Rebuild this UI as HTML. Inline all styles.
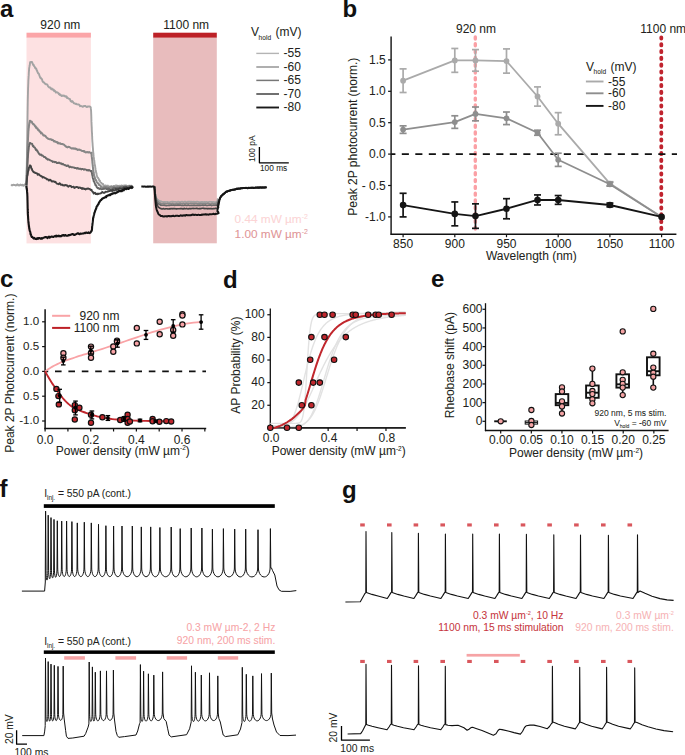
<!DOCTYPE html>
<html><head><meta charset="utf-8"><style>
html,body{margin:0;padding:0;background:#fff;}
svg{display:block;font-family:"Liberation Sans", sans-serif;}
</style></head><body>
<svg width="685" height="755" viewBox="0 0 685 755">
<rect width="685" height="755" fill="#fff"/>
<text x="0" y="17.3" font-size="24" text-anchor="start" fill="#111" font-weight="bold" >a</text>
<text x="60.3" y="29" font-size="12" text-anchor="middle" fill="#231f20" font-weight="normal" stroke="#231f20" stroke-width="0.05" >920 nm</text>
<text x="186.2" y="29" font-size="12" text-anchor="middle" fill="#231f20" font-weight="normal" stroke="#231f20" stroke-width="0.05" >1100 nm</text>
<rect x="26.5" y="32.7" width="64.4" height="5.1" fill="#fba5a8" />
<rect x="26.5" y="37.8" width="64.4" height="205.6" fill="#fde1e2" />
<rect x="153.2" y="32.7" width="63.6" height="5.1" fill="#bd2026" />
<rect x="153.2" y="37.8" width="63.6" height="205.5" fill="#e8bcbd" />
<path d="M11.2 184.37 L11.9 185.32 L12.6 185.41 L13.3 184.72 L14 184.94 L14.7 184.94 L15.4 185.25 L16.1 185.52 L16.8 184.59 L17.5 184.32 L18.2 185.43 L18.9 185.07 L19.6 185.48 L20.3 184.46 L21 184.89 L21.7 185.37 L22.4 184.75 L23.1 185.65 L23.8 185.75 L24.5 184.51 L25.2 184.23 L25.88 185.01 L26.2 186.32 L26.35 186.34 L26.42 186.67 L26.42 187.59 L26.35 186.84 L26.35 186.31 L26.36 185.95 L26.38 185.41 L26.4 184.36 L26.42 183.59 L26.44 182.86 L26.46 182.5 L26.48 181.62 L26.5 180.5 L26.51 180.89 L26.53 180 L26.55 179.39 L26.56 178.05 L26.58 178.38 L26.59 177.7 L26.61 175.94 L26.62 175.33 L26.63 175.21 L26.65 174.61 L26.66 174.26 L26.67 172.88 L26.69 172.64 L26.7 171.8 L26.71 170.54 L26.72 170.14 L26.74 169.93 L26.75 169.27 L26.76 168.09 L26.77 167.41 L26.78 165.92 L26.79 165.36 L26.81 165.49 L26.82 164.4 L26.83 163.28 L26.84 163.03 L26.85 162.65 L26.86 161.97 L26.87 160.84 L26.88 160.15 L26.89 159.55 L26.9 159.26 L26.92 158.27 L26.93 157.33 L26.94 156.72 L26.95 155.37 L26.96 154.56 L26.97 154.79 L26.98 154.68 L26.99 153.54 L27 152.46 L27.01 151.37 L27.02 151.06 L27.03 151.14 L27.04 150.28 L27.06 149.22 L27.07 148.91 L27.08 147.38 L27.09 146.93 L27.1 146.91 L27.11 145.8 L27.12 144.85 L27.13 143.83 L27.14 143.46 L27.15 143.42 L27.17 141.48 L27.18 141.65 L27.19 141.18 L27.2 140.62 L27.21 139.74 L27.22 139.1 L27.23 138 L27.25 137.28 L27.26 136.38 L27.27 135.11 L27.28 135.46 L27.29 134.54 L27.3 133.27 L27.31 132.89 L27.32 132.23 L27.33 131.35 L27.34 130.6 L27.35 130.16 L27.36 129.64 L27.37 128.96 L27.38 128.04 L27.39 126.68 L27.4 126.14 L27.41 125.39 L27.42 125.27 L27.43 125.08 L27.44 124.4 L27.45 123.7 L27.46 123.03 L27.47 121.52 L27.48 121.51 L27.48 120.7 L27.49 119.13 L27.5 118.16 L27.51 117.4 L27.52 117.76 L27.53 116.54 L27.54 115.54 L27.55 115.52 L27.56 114.55 L27.57 113.4 L27.58 112.74 L27.59 112.58 L27.6 111.47 L27.61 110.84 L27.62 110.78 L27.63 109.84 L27.64 108.9 L27.65 108.37 L27.66 107.06 L27.67 106.76 L27.69 106.19 L27.7 105.18 L27.71 104.3 L27.72 104.71 L27.73 103.67 L27.74 102.47 L27.76 102.24 L27.77 101.94 L27.78 100.17 L27.79 99.25 L27.81 98.69 L27.82 98.85 L27.83 97.51 L27.85 97.47 L27.87 96.86 L27.88 95.99 L27.9 94.79 L27.91 95.08 L27.93 94.32 L27.95 93.2 L27.97 92 L27.99 91.81 L28.01 90.84 L28.03 90.35 L28.05 89.33 L28.07 89.01 L28.09 87.56 L28.11 87.06 L28.14 87.36 L28.16 86.73 L28.19 85.22 L28.21 85.16 L28.24 83.8 L28.27 83.87 L28.3 83.04 L28.33 81.85 L28.36 80.81 L28.39 79.7 L28.43 80.17 L28.47 78.49 L28.5 78.72 L28.54 78.41 L28.58 77.23 L28.62 75.86 L28.66 76.03 L28.71 75.66 L28.75 74.63 L28.79 73.59 L28.84 72.63 L28.89 71.84 L28.94 70.92 L29 70.85 L29.06 69.93 L29.12 68.85 L29.19 67.94 L29.27 68.01 L29.36 66.94 L29.45 66.47 L29.56 65.57 L29.68 65.62 L29.81 65.12 L29.95 63.21 L30.09 62.54 L30.25 62.04 L30.51 62.38 L31.12 62.13 L31.66 61.9 L32.11 62.13 L32.51 63.3 L32.9 64.24 L33.28 65.04 L33.64 64.83 L34.01 66.04 L34.37 66.48 L34.72 66.76 L35.08 68.02 L35.44 67.67 L35.8 68.79 L36.14 68.58 L36.48 69.15 L36.81 70.83 L37.14 70.65 L37.47 71.9 L37.8 72.41 L38.12 73.36 L38.45 73.36 L38.78 73.81 L39.11 74.33 L39.42 75.77 L39.73 76.18 L40.03 77.27 L40.34 77.89 L40.66 77.43 L40.98 78.44 L41.32 78.48 L41.69 78.87 L42.08 79.46 L42.5 81.16 L42.95 81.82 L43.42 82.41 L43.91 82.23 L44.42 82.97 L44.94 83.73 L45.46 83.66 L45.99 84.29 L46.52 84.29 L47.05 84.45 L47.58 85.12 L48.11 86.52 L48.64 86.69 L49.18 87.6 L49.72 87.46 L50.26 87.53 L50.81 88.62 L51.37 89.24 L51.92 88.53 L52.48 89.67 L53.05 89.39 L53.61 89.7 L54.18 91.2 L54.74 90.61 L55.32 91.11 L55.89 92.6 L56.47 92.4 L57.05 92.23 L57.63 92.58 L58.23 93.05 L58.82 94.15 L59.43 93.73 L60.05 95.07 L60.68 94.8 L61.33 95.81 L61.98 96.11 L62.64 95.47 L63.31 95.46 L63.97 95.97 L64.62 95.72 L65.27 96.69 L65.91 96.24 L66.53 96.37 L67.13 98.09 L67.71 97.77 L68.27 98.47 L68.82 98.75 L69.37 98.96 L69.91 99 L70.44 100.59 L70.98 101.35 L71.53 101.86 L72.07 101.07 L72.63 101.39 L73.21 102.35 L73.8 103.36 L74.4 103.22 L75.01 103.67 L75.62 103.99 L76.25 103.73 L76.87 104.33 L77.51 104.34 L78.15 104.48 L78.8 104.47 L79.46 104.95 L80.12 106.23 L80.79 105.87 L81.47 106.21 L82.16 106.35 L82.86 106.87 L83.55 106.23 L84.25 106.02 L84.95 106.03 L85.65 106.05 L86.35 106.86 L87.05 107.15 L87.74 106.45 L88.43 106.35 L89.11 106.44 L89.78 106.4 L90.29 106.88 L90.54 107.03 L90.71 107.29 L90.83 108.22 L90.91 108.71 L90.99 110.06 L91.05 110.19 L91.1 110.79 L91.14 112.27 L91.18 112.63 L91.21 113.98 L91.24 114.38 L91.26 115.55 L91.29 115.33 L91.31 116.34 L91.33 117.53 L91.35 117.29 L91.37 119.06 L91.39 118.86 L91.41 120.24 L91.43 121.38 L91.46 121.93 L91.48 121.88 L91.5 122.12 L91.53 123.32 L91.56 124.7 L91.59 124.63 L91.63 126.04 L91.66 125.8 L91.69 127.42 L91.73 127.04 L91.76 127.93 L91.79 129.51 L91.82 130.25 L91.86 131.1 L91.89 131.74 L91.92 132.29 L91.95 132.87 L91.98 132.82 L92.01 133.73 L92.05 134.08 L92.08 135.51 L92.11 136.28 L92.15 136.4 L92.18 136.71 L92.22 138.63 L92.25 139.35 L92.29 139.68 L92.33 140.29 L92.37 141.42 L92.41 141.63 L92.45 142.15 L92.5 142.73 L92.55 143.29 L92.59 143.62 L92.64 145.14 L92.69 145.68 L92.74 146.56 L92.79 146.57 L92.84 147.55 L92.9 147.99 L92.95 148.62 L93.01 149.49 L93.07 151.05 L93.13 151.3 L93.2 151.91 L93.26 152.89 L93.33 153.1 L93.41 153.37 L93.48 154.73 L93.56 155.52 L93.64 156.45 L93.73 156.89 L93.82 157.89 L93.91 158.71 L94 158.72 L94.09 159.64 L94.18 160.36 L94.28 160.69 L94.37 161.59 L94.47 162.53 L94.57 163.77 L94.67 164.59 L94.77 164.38 L94.88 165.43 L94.98 165.33 L95.1 165.9 L95.21 167.2 L95.32 168.54 L95.44 168.32 L95.57 169.7 L95.7 170.7 L95.83 170.62 L95.98 171.71 L96.12 172.69 L96.28 172.75 L96.45 173.78 L96.64 174.57 L96.83 175.07 L97.04 176.07 L97.27 176.86 L97.51 177.64 L97.78 177.75 L98.06 177.71 L98.37 178.31 L98.71 178.87 L99.07 179.97 L99.45 180.92 L99.85 180.56 L100.26 181.84 L100.68 182.6 L101.11 182.66 L101.57 183.32 L102.07 183.34 L102.61 184.5 L103.19 184.04 L103.8 185.57 L104.45 185.83 L105.11 185.8 L105.79 185.4 L106.47 186.35 L107.17 186.67 L107.86 185.59 L108.56 186.32 L109.26 186.57 L109.96 186.36 L110.66 186.38 L111.36 186 L112.06 186.61 L112.76 186.8 L113.46 185.98 L114.16 186.42 L114.86 185.98 L115.56 185.51 L116.26 185.66 L116.96 185.41 L117.66 186.49 L118.36 186.78 L119.06 185.63 L119.76 186.1 L120.46 185.92 L121.16 185.46 L121.86 185.63 L122.56 185.59 L123.26 186.31 L123.96 185.37 L124.66 185.45 L125.36 185.82 L126.06 185.3 L126.76 186.06 L127.46 186.18 L128.16 186.53 L128.86 185.69 L129.56 185.64 L130.26 185.99 L130.96 185.67 L131.66 186.06 L132.3 185.65" fill="none" stroke="#a3a3a3" stroke-width="1.9" stroke-linejoin="round" stroke-linecap="butt" />
<path d="M26.4 186.08 L26.42 185.49 L26.44 183.67 L26.46 182.78 L26.48 183.01 L26.51 182.36 L26.53 181.59 L26.55 180.41 L26.57 180 L26.59 179.36 L26.61 178.64 L26.63 177.39 L26.65 176.93 L26.67 176.23 L26.69 175.96 L26.71 175.69 L26.74 175.02 L26.76 173.8 L26.78 172.87 L26.8 171.9 L26.82 170.85 L26.84 170.07 L26.86 169.91 L26.89 169.14 L26.91 168.5 L26.93 168.47 L26.95 167.43 L26.98 166.71 L27 165.59 L27.02 164.54 L27.04 164.15 L27.07 163.27 L27.09 163.02 L27.12 163.03 L27.14 162.06 L27.16 160.67 L27.19 160.75 L27.21 160.08 L27.24 159.31 L27.26 158.81 L27.29 157.97 L27.31 157.28 L27.34 156.02 L27.36 156.01 L27.39 155.43 L27.41 153.72 L27.44 153.58 L27.46 152.95 L27.49 151.93 L27.51 151.26 L27.54 150.51 L27.57 150.36 L27.59 149.23 L27.62 148.87 L27.64 147.62 L27.67 147.49 L27.7 146.93 L27.72 145.69 L27.75 145.02 L27.78 144.78 L27.8 143.92 L27.83 142.89 L27.86 141.78 L27.89 141.13 L27.92 140.92 L27.95 139.64 L27.98 139.77 L28.01 138.42 L28.04 138.41 L28.07 137.08 L28.11 137.09 L28.14 136.21 L28.18 135.21 L28.22 134.47 L28.26 133.94 L28.3 133.19 L28.34 132.13 L28.39 131.22 L28.44 130.87 L28.5 130.78 L28.56 129.81 L28.62 128.36 L28.69 128.46 L28.77 127.81 L28.85 127.35 L28.95 125.79 L29.05 125.63 L29.17 124.17 L29.3 124.09 L29.44 123.04 L29.57 122.22 L29.7 122.34 L29.84 120.83 L30.33 120.86 L30.93 121.71 L31.43 121.52 L31.88 121.87 L32.32 123.24 L32.74 123.37 L33.17 124.22 L33.6 123.95 L34.04 124.76 L34.49 125.1 L34.94 126.24 L35.41 126.13 L35.88 127.64 L36.34 127.17 L36.8 128.4 L37.26 128.16 L37.72 128.83 L38.18 130.1 L38.65 129.93 L39.12 130.35 L39.59 131.5 L40.06 131.75 L40.54 131.77 L41.03 133.38 L41.52 133.03 L42.02 133.2 L42.53 134.01 L43.06 134.89 L43.59 135.58 L44.15 135.26 L44.71 135.8 L45.29 135.83 L45.88 136.67 L46.48 137.53 L47.09 137.94 L47.71 138.49 L48.33 138.67 L48.96 139.09 L49.58 139.22 L50.21 139.19 L50.84 139.12 L51.46 139.92 L52.09 139.89 L52.71 139.86 L53.34 140.54 L53.97 141.47 L54.6 140.94 L55.24 141.66 L55.87 141.79 L56.51 142.2 L57.15 142.04 L57.79 143.27 L58.43 142.85 L59.07 143.43 L59.72 143.52 L60.36 143.24 L61.01 144.09 L61.66 143.94 L62.31 144.01 L62.96 144.2 L63.61 144.61 L64.26 144.81 L64.92 145.74 L65.57 145.96 L66.23 146.8 L66.88 147.1 L67.54 147.43 L68.2 146.71 L68.86 147.03 L69.52 147.02 L70.18 147.64 L70.85 147.98 L71.51 148.45 L72.18 148.6 L72.84 148.22 L73.51 148.52 L74.19 148.86 L74.86 148.42 L75.53 148.52 L76.21 149.17 L76.88 149.06 L77.56 149.96 L78.24 149.67 L78.92 149.57 L79.59 149.79 L80.27 150.04 L80.95 150.21 L81.63 150.77 L82.31 150.93 L82.99 150.89 L83.68 151.42 L84.36 151.1 L85.05 152.04 L85.73 152.41 L86.42 152.31 L87.1 152.03 L87.78 152.2 L88.46 152.45 L89.14 151.96 L89.82 152.49 L90.48 152.91 L91.14 152.74 L91.6 152.69 L91.51 154.24 L91.56 154.56 L91.65 155.37 L91.74 156.6 L91.81 157.01 L91.89 157.24 L91.96 158.73 L92.03 158.8 L92.1 158.92 L92.16 160.35 L92.23 160.45 L92.29 161.29 L92.36 162.7 L92.43 163.32 L92.49 163.17 L92.56 164.25 L92.63 164.97 L92.7 165.77 L92.78 166.13 L92.85 167.25 L92.93 167.37 L93.01 168.22 L93.1 169.05 L93.2 170.5 L93.3 170.24 L93.41 171.61 L93.52 171.72 L93.63 172.78 L93.75 173.31 L93.87 174.06 L94 175.13 L94.15 175.43 L94.31 175.69 L94.5 176.27 L94.72 176.87 L94.96 178.5 L95.23 179.07 L95.53 180.1 L95.85 180.46 L96.19 180.16 L96.55 181.39 L96.93 182.26 L97.33 182.82 L97.74 183.09 L98.18 183.4 L98.64 184.01 L99.12 184.97 L99.63 184.86 L100.16 185.53 L100.73 185.92 L101.33 186.89 L101.96 187.11 L102.62 187.49 L103.3 187.56 L103.99 186.96 L104.69 186.8 L105.39 187.12 L106.09 186.92 L106.79 187.11 L107.49 187.49 L108.19 187.89 L108.89 187.55 L109.59 187.77 L110.29 186.88 L110.99 187.02 L111.69 187.84 L112.39 186.89 L113.09 187.02 L113.78 186.57 L114.48 186.47 L115.18 187.45 L115.88 187.73 L116.58 187.32 L117.28 186.54 L117.98 186.56 L118.68 186.45 L119.37 186.97 L120.07 187.06 L120.77 186.74 L121.47 186.76 L122.17 186.21 L122.87 186.62 L123.57 187.2 L124.27 187.04 L124.97 186.14 L125.67 186.47 L126.37 186.76 L127.07 186.2 L127.76 186.88 L128.46 186.43 L129.16 186.62 L129.86 186.25 L130.56 186.91 L131.26 186.74 L131.96 186.41 L132.3 185.78" fill="none" stroke="#878787" stroke-width="2.0" stroke-linejoin="round" stroke-linecap="butt" />
<path d="M26.4 185.16 L26.44 184.79 L26.47 183.93 L26.5 183.5 L26.54 182.88 L26.57 181.48 L26.61 180.58 L26.64 180.89 L26.67 179.66 L26.71 178.82 L26.74 179.06 L26.78 177.88 L26.81 177.56 L26.85 176.47 L26.89 175.9 L26.92 174.6 L26.96 174.4 L27 174.1 L27.03 173.04 L27.07 172.55 L27.11 171.8 L27.15 170.32 L27.19 170.35 L27.23 169.58 L27.27 168.5 L27.31 167.38 L27.35 167.66 L27.39 166.66 L27.43 166.21 L27.47 165.77 L27.5 164.91 L27.54 164.45 L27.58 163.12 L27.62 162.82 L27.66 161.74 L27.7 161.59 L27.74 160.93 L27.78 159.24 L27.82 158.39 L27.86 157.77 L27.9 158.04 L27.95 156.86 L27.99 156.31 L28.04 155.22 L28.09 154.71 L28.14 153.9 L28.19 153.13 L28.25 152.72 L28.31 152.08 L28.37 151.8 L28.44 150.9 L28.52 150.48 L28.59 149.75 L28.67 149.22 L28.75 148.15 L28.84 146.73 L28.93 146.78 L29.03 146.37 L29.16 145.66 L29.32 144.55 L29.57 143.99 L30 142.83 L30.66 143.41 L31.24 143.6 L31.73 143.7 L32.17 143.87 L32.59 145.37 L33.01 146.29 L33.41 145.78 L33.82 147.05 L34.24 147.25 L34.67 147.4 L35.11 148.04 L35.57 149.2 L36.01 150 L36.44 149.55 L36.86 150.63 L37.29 150.56 L37.72 151.85 L38.16 152.05 L38.61 153.22 L39.09 153.99 L39.58 153.92 L40.09 154.92 L40.63 154.59 L41.18 154.57 L41.75 155.56 L42.33 155.34 L42.92 155.81 L43.51 156.46 L44.11 157.14 L44.72 156.97 L45.33 157.07 L45.94 158.41 L46.56 158.24 L47.18 159.29 L47.8 159.67 L48.43 159.33 L49.05 159.61 L49.69 159.99 L50.32 160.46 L50.96 160.72 L51.6 160.95 L52.24 161.29 L52.9 161.96 L53.56 161.72 L54.22 161.75 L54.89 162.29 L55.56 161.94 L56.24 162.09 L56.91 163.13 L57.59 162.9 L58.27 163.03 L58.94 162.52 L59.62 163.08 L60.29 163.57 L60.96 163.12 L61.62 163.97 L62.29 164.34 L62.95 163.86 L63.61 164.68 L64.27 164.82 L64.93 165.31 L65.59 165.17 L66.25 165.79 L66.91 166.13 L67.57 165.47 L68.24 165.56 L68.9 166.54 L69.57 167.28 L70.24 166.67 L70.91 166.97 L71.58 167.35 L72.26 167.21 L72.94 167.37 L73.63 167.45 L74.31 167.65 L75 168.09 L75.69 167.9 L76.38 168.06 L77.07 168.69 L77.76 167.95 L78.45 168.59 L79.14 169.02 L79.83 168.66 L80.52 168.58 L81.21 169.4 L81.9 168.93 L82.59 168.86 L83.28 169.25 L83.97 169.75 L84.66 169.18 L85.35 169.43 L86.05 169.58 L86.74 170.33 L87.43 170.07 L88.12 170.64 L88.81 169.97 L89.5 170.16 L90.18 170.71 L90.86 171.26 L91.55 170.91 L91.49 171.07 L91.63 171.54 L91.79 172.7 L91.94 173.05 L92.08 174.46 L92.21 175.33 L92.34 175.22 L92.47 175.86 L92.61 177.22 L92.76 177.83 L92.92 178.7 L93.08 178.83 L93.27 179.12 L93.47 179.92 L93.71 181.25 L93.96 181.36 L94.23 182 L94.51 182.73 L94.8 183.39 L95.11 184.01 L95.44 185.28 L95.8 185.03 L96.2 185.24 L96.64 186.91 L97.14 187.55 L97.68 188.16 L98.27 187.86 L98.9 188.69 L99.56 189.01 L100.23 188.31 L100.91 188.95 L101.6 189.28 L102.3 189.17 L103 189.01 L103.7 188.71 L104.4 188.73 L105.1 188.59 L105.8 188.37 L106.5 188.99 L107.2 188.72 L107.9 189.32 L108.59 188.43 L109.29 189.32 L109.99 189.18 L110.69 189.39 L111.38 189.35 L112.08 189.28 L112.78 188.79 L113.47 187.91 L114.17 188.6 L114.86 187.93 L115.56 187.89 L116.25 188.28 L116.95 188.11 L117.64 187.87 L118.34 188.43 L119.03 188.06 L119.73 187.58 L120.42 187.31 L121.12 187.98 L121.82 187.56 L122.51 187.81 L123.21 187.25 L123.9 186.88 L124.6 187.18 L125.3 187.54 L125.99 186.73 L126.69 187.3 L127.38 187.53 L128.08 187.36 L128.78 187.29 L129.47 186.17 L130.17 186.69 L130.86 187.03 L131.56 186 L132.26 186.02 L132.3 186.03" fill="none" stroke="#686868" stroke-width="1.9" stroke-linejoin="round" stroke-linecap="butt" />
<path d="M26.4 185.12 L26.46 184.16 L26.52 183.83 L26.58 182.86 L26.64 181.98 L26.7 181.72 L26.76 181.86 L26.82 181.16 L26.88 180.41 L26.95 178.92 L27.03 178.52 L27.1 177.51 L27.19 176.6 L27.28 175.77 L27.38 175.2 L27.49 175.57 L27.61 174.95 L27.74 174.24 L27.86 173.54 L27.99 171.97 L28.13 171.28 L28.26 171.05 L28.41 170.6 L28.56 170.15 L28.72 169.55 L28.9 167.74 L29.09 167.59 L29.31 167.13 L29.6 166.29 L30.06 165.29 L30.58 166 L30.91 166.13 L31.18 167.9 L31.44 168.67 L31.7 168.89 L31.98 169.09 L32.3 170.5 L32.68 170.76 L33.14 171.66 L33.63 172.19 L34.16 172.17 L34.71 172.37 L35.28 172.99 L35.87 173.16 L36.47 173.1 L37.08 173.57 L37.68 174.68 L38.29 174.06 L38.9 174.22 L39.52 175.35 L40.13 175.35 L40.75 175.97 L41.37 176.27 L41.99 176.4 L42.61 177.63 L43.24 176.97 L43.86 177.41 L44.49 177.44 L45.12 178.31 L45.75 178.22 L46.38 178.55 L47.01 179.42 L47.65 179.21 L48.28 179.74 L48.93 180.57 L49.57 179.8 L50.22 179.8 L50.86 180.25 L51.52 181.32 L52.17 181.52 L52.82 181.21 L53.48 181.47 L54.14 181.49 L54.8 182.09 L55.46 181.79 L56.13 182.85 L56.79 183.52 L57.46 183.91 L58.12 183.84 L58.79 184.32 L59.46 183.22 L60.13 183.56 L60.8 184.76 L61.47 184.88 L62.14 184.54 L62.82 185.39 L63.49 185.24 L64.17 185.65 L64.84 185.12 L65.52 185 L66.2 185.48 L66.88 185.27 L67.56 185.71 L68.24 186.77 L68.92 186.2 L69.6 185.74 L70.29 185.82 L70.97 186.13 L71.66 187.19 L72.34 186.91 L73.03 186.85 L73.72 186.66 L74.41 187.98 L75.1 187.53 L75.79 187.21 L76.49 187 L77.18 187.03 L77.88 187.26 L78.57 188.11 L79.27 187.58 L79.96 187.38 L80.66 188.05 L81.35 187.9 L82.05 189.01 L82.74 188.04 L83.44 188.5 L84.13 189.01 L84.83 188.65 L85.53 189.48 L86.22 188.97 L86.92 188.58 L87.61 188.81 L88.31 188.38 L89 188.91 L89.7 188.84 L90.39 189.83 L91.08 190.04 L91.23 189.98 L91.56 189.83 L91.85 190.64 L92.17 191.27 L92.58 191.79 L93.12 192.26 L93.73 193.52 L94.39 192.9 L95.07 192.76 L95.76 194.05 L96.46 193.79 L97.16 194.31 L97.86 193.5 L98.55 193.98 L99.24 193.61 L99.93 193.63 L100.61 193.45 L101.3 192.94 L101.98 192.14 L102.67 192.03 L103.35 192.83 L104.02 192.88 L104.7 192.77 L105.37 191.74 L106.04 191.84 L106.72 191.92 L107.39 191.57 L108.07 191.61 L108.75 191.08 L109.43 191.03 L110.12 190.95 L110.81 190.23 L111.49 190.92 L112.18 191 L112.87 189.65 L113.56 190.58 L114.25 190.65 L114.94 190.15 L115.63 189.05 L116.32 189.97 L117.01 188.95 L117.7 189.87 L118.39 189.52 L119.08 188.49 L119.77 188.34 L120.46 188.9 L121.15 188.82 L121.84 188.97 L122.53 189.17 L123.22 188.1 L123.92 187.49 L124.61 188.6 L125.3 187.42 L125.99 188.34 L126.68 187.34 L127.37 188.05 L128.06 188.07 L128.75 188.12 L129.44 187.57 L130.13 187.84 L130.83 186.83 L131.52 187.21 L132.21 186.71 L132.3 187.42" fill="none" stroke="#414141" stroke-width="1.9" stroke-linejoin="round" stroke-linecap="butt" />
<path d="M26.4 185.96 L26.49 186.84 L26.58 187.63 L26.68 188.54 L26.77 189.01 L26.86 189.9 L26.94 189.49 L27.01 190.52 L27.08 191.9 L27.13 192.35 L27.19 193.33 L27.23 193.07 L27.27 194.04 L27.31 194.5 L27.34 195.54 L27.37 196.34 L27.4 196.34 L27.42 197.16 L27.44 197.97 L27.46 199.5 L27.48 200.18 L27.5 200.1 L27.52 201.46 L27.53 201.45 L27.55 202.62 L27.57 202.78 L27.58 203.22 L27.6 204.98 L27.61 205.04 L27.63 205.62 L27.65 207.28 L27.66 208.03 L27.68 207.99 L27.7 209.4 L27.72 209.71 L27.74 210.5 L27.76 210.62 L27.78 212.14 L27.81 212.69 L27.83 213.71 L27.86 214.38 L27.89 214.31 L27.93 214.94 L27.96 215.37 L28 215.99 L28.05 216.57 L28.1 217.55 L28.15 218.69 L28.2 218.71 L28.26 220.13 L28.32 220.54 L28.38 221.14 L28.45 222.47 L28.52 222.86 L28.6 223.29 L28.68 224.14 L28.77 225.15 L28.86 225.08 L28.95 226.79 L29.06 226.47 L29.17 227.89 L29.28 228.85 L29.4 228.53 L29.53 230.01 L29.66 230.31 L29.81 231.19 L29.98 231.18 L30.16 231.77 L30.37 232.59 L30.59 234.27 L30.84 234.16 L31.12 235.36 L31.44 236.32 L31.78 237.02 L32.14 236.87 L32.57 237.28 L33.11 237.91 L33.75 238.55 L34.43 237.93 L35.12 238.71 L35.82 238.96 L36.52 239.09 L37.22 238.04 L37.92 238.95 L38.62 237.99 L39.31 238.07 L40.01 238.38 L40.71 238.77 L41.4 238.06 L42.1 238.6 L42.8 238.17 L43.49 237.71 L44.19 237.56 L44.88 237.28 L45.57 237.02 L46.27 236.99 L46.96 237.6 L47.65 238.04 L48.35 236.98 L49.04 236.55 L49.73 237.58 L50.43 237.13 L51.12 236.8 L51.82 236.45 L52.51 236.76 L53.2 237.04 L53.9 236.55 L54.59 236.34 L55.29 235.76 L55.98 236.68 L56.68 235.67 L57.37 235.99 L58.07 236.44 L58.76 235.56 L59.46 236.1 L60.16 236.43 L60.85 236.03 L61.55 236.09 L62.25 235.18 L62.94 235.37 L63.64 234.98 L64.34 235.74 L65.03 235.14 L65.73 235.17 L66.43 235.82 L67.12 235.7 L67.82 235.78 L68.52 235.07 L69.21 234.91 L69.91 235.13 L70.6 234.79 L71.3 234.42 L71.99 234.42 L72.69 234.02 L73.38 234.17 L74.08 234.92 L74.77 234.96 L75.47 234.47 L76.16 234.14 L76.86 233.8 L77.55 233.34 L78.24 233.41 L78.94 234 L79.63 234.16 L80.33 233.47 L81.02 233.8 L81.71 233.78 L82.41 233.59 L83.1 233.44 L83.79 233.46 L84.49 232.87 L85.18 233.12 L85.87 232.55 L86.57 232.63 L87.27 232.96 L87.97 232.9 L88.67 232.37 L89.36 233.07 L90.06 232.75 L90.71 232.36 L91.24 231.16 L91.61 231.1 L91.82 230.16 L91.94 229.96 L91.99 229.09 L92.03 228.81 L92.06 227.98 L92.1 227.44 L92.16 226.2 L92.25 225.78 L92.34 225.26 L92.43 224.72 L92.5 223.44 L92.58 223.26 L92.66 222.7 L92.74 221.8 L92.82 221.43 L92.9 220.78 L92.99 219.53 L93.09 218.74 L93.2 217.56 L93.33 217.64 L93.47 217.23 L93.63 216.02 L93.8 215.51 L93.98 214.9 L94.17 214.25 L94.38 212.88 L94.58 212.84 L94.79 212.05 L95 211.46 L95.23 210.5 L95.46 210.04 L95.71 209.62 L95.98 208.85 L96.27 208.29 L96.58 206.8 L96.9 206.17 L97.23 205.91 L97.56 205.63 L97.9 204.53 L98.25 204.43 L98.61 203.86 L98.99 202.52 L99.38 202.34 L99.79 201.54 L100.23 200.72 L100.69 200.25 L101.16 199.98 L101.66 199.36 L102.18 198.88 L102.72 198.23 L103.27 198.31 L103.83 197.89 L104.41 197.79 L105 197.44 L105.6 196.63 L106.21 197.06 L106.84 195.74 L107.47 195.77 L108.12 195.39 L108.76 195.26 L109.41 194.65 L110.06 195.23 L110.7 194.55 L111.35 193.77 L111.99 194.13 L112.64 193.32 L113.29 193.52 L113.93 193.09 L114.58 193.1 L115.23 193.37 L115.88 193.04 L116.53 192.26 L117.19 192.41 L117.84 192.03 L118.5 191.41 L119.16 190.81 L119.82 191.09 L120.49 190.93 L121.15 191.23 L121.82 191.13 L122.49 190.49 L123.16 189.87 L123.83 190.28 L124.5 189.06 L125.17 188.79 L125.84 189.17 L126.51 189.15 L127.19 188.39 L127.86 188.71 L128.53 188.96 L129.21 188.19 L129.88 187.96 L130.56 187.5 L131.23 187.34 L131.91 188.04 L132.59 187.36 L132.7 187.98" fill="none" stroke="#141414" stroke-width="2.1" stroke-linejoin="round" stroke-linecap="butt" />
<path d="M154.4 186.47 L154.49 187.22 L154.57 188.15 L154.66 188.65 L154.75 189.31 L154.84 190.03 L154.93 190.5 L155.03 191.31 L155.13 192.11 L155.24 192.94 L155.34 193.27 L155.45 193.95 L155.57 194.52 L155.71 195.58 L155.87 196.32 L156.07 196.64 L156.33 197.71 L156.64 198.47 L157 198.95 L157.38 199.46 L157.81 199.72 L158.31 200.02 L158.9 200.64 L159.53 200.74 L160.2 200.97 L160.55 201.3 L161.05 201.36 L161.75 201.61 L162.45 201.69 L163.15 201.96 L163.85 201.87 L164.55 201.92 L165.25 201.86 L165.95 201.93 L166.65 201.84 L167.35 201.7 L168.05 202.08 L168.75 202.21 L169.45 202.16 L170.15 202.07 L170.85 201.81 L171.55 201.67 L172.25 201.65 L172.95 201.52 L173.65 201.88 L174.35 201.79 L175.05 202.02 L175.75 201.83 L176.45 202.09 L177.15 202.12 L177.85 201.63 L178.55 201.59 L179.25 201.98 L179.95 201.86 L180.65 202.11 L181.35 201.86 L182.05 201.58 L182.75 201.8 L183.45 201.97 L184.15 201.73 L184.85 201.54 L185.55 201.61 L186.25 202.01 L186.95 202.03 L187.65 201.66 L188.35 201.6 L189.05 201.5 L189.75 201.44 L190.45 201.85 L191.15 201.63 L191.85 201.78 L192.55 201.77 L193.25 201.62 L193.95 201.89 L194.65 201.64 L195.35 201.86 L196.05 201.64 L196.75 201.74 L197.45 201.66 L198.15 201.68 L198.85 202.1 L199.55 202.16 L200.25 201.89 L200.95 202.15 L201.65 201.85 L202.35 201.86 L203.05 202.14 L203.75 202.12 L204.45 201.8 L205.15 202.21 L205.85 201.91 L206.55 201.83 L207.25 202.11 L207.95 201.95 L208.65 201.88 L209.35 201.72 L210.05 201.67 L210.75 201.94 L211.45 201.84 L212.15 202 L212.85 201.91 L213.55 201.92 L214.25 202.19 L214.95 201.99 L215.65 201.93 L216.35 202.04 L217.04 201.59 L217.71 201.27 L218.31 201.33 L218.58 200.8 L218.35 199.85 L217.92 199.16 L217.41 198.96 L217.47 199.61 L217.58 199.94 L217.68 200.95 L217.78 201.71 L217.89 202.26 L218.07 202.78 L218.51 202.5 L218.75 201.72 L218.94 201.54 L219.12 200.62 L219.32 200.13 L219.53 199.27 L219.78 198.88 L220.06 198.2 L220.41 197.4 L220.82 196.7 L221.26 196.42 L221.72 195.6 L222.19 195.08 L222.68 194.77 L223.18 194.52 L223.69 193.99 L224.22 193.31 L224.76 193.17 L225.32 192.43 L225.9 191.82 L226.49 191.52 L227.11 191.32 L227.76 190.87 L228.42 190.64 L229.09 190.56 L229.76 190.53 L230.44 190.15 L231.12 190.03 L231.79 190.19 L232.47 190.2 L233.16 189.91 L233.84 189.73 L234.52 189.51 L235.21 189.09 L235.9 188.79 L236.58 188.59 L237.27 188.96 L237.96 188.89 L238.65 188.95 L239.34 188.35 L240.04 188.44 L240.73 188.32 L241.42 188.37 L242.12 188.11 L242.82 188.38 L243.52 187.9 L244.22 187.99 L244.91 188.11 L245.61 188.24 L246.31 188.17 L247.01 188.12 L247.71 188.14 L248.41 188.21 L249.11 187.89 L249.81 187.96 L250.51 188.1 L251.21 188.11 L251.91 187.83 L252.61 187.94 L253.31 188 L254.01 187.84 L254.71 187.79 L255.41 187.62 L256.11 187.66 L256.81 187.68 L257.51 187.36 L258.21 187.56 L258.91 187.82 L259.61 187.84 L260.31 187.74 L261.01 187.49 L261.71 187.59 L262.41 187.52 L263.11 187.4 L263.8 187.58 L264.5 187.19 L265.2 187.42 L265.9 187.07 L266.4 187.27" fill="none" stroke="#a3a3a3" stroke-width="1.6" stroke-linejoin="round" stroke-linecap="butt" />
<path d="M154.4 186.49 L154.48 187.28 L154.56 188.02 L154.63 188.42 L154.71 188.94 L154.79 189.78 L154.87 190.47 L154.96 191.48 L155.04 192.21 L155.14 192.87 L155.23 193.52 L155.33 194.26 L155.43 194.67 L155.53 195.44 L155.65 195.99 L155.78 197.06 L155.94 197.38 L156.13 198.38 L156.38 198.71 L156.67 199.59 L157 200.09 L157.34 200.69 L157.73 201.53 L158.2 201.66 L158.75 201.98 L159.35 202.79 L160 202.97 L160.65 202.94 L160.82 203.71 L161.52 203.88 L162.22 203.46 L162.92 203.51 L163.61 203.36 L164.31 203.41 L165.01 203.62 L165.71 203.42 L166.41 203.66 L167.11 203.37 L167.81 203.34 L168.51 203.71 L169.21 203.59 L169.91 203.56 L170.61 203.65 L171.31 203.61 L172.01 203.54 L172.71 203.3 L173.41 203.63 L174.11 203.88 L174.81 203.97 L175.51 203.81 L176.21 203.58 L176.91 203.5 L177.61 203.66 L178.31 203.7 L179.01 203.38 L179.71 203.34 L180.41 203.4 L181.11 203.5 L181.81 203.71 L182.51 203.6 L183.21 203.28 L183.91 203.63 L184.61 203.52 L185.31 203.53 L186.01 203.36 L186.71 203.42 L187.41 203.41 L188.11 203.63 L188.81 203.32 L189.51 203.47 L190.21 203.3 L190.91 203.54 L191.61 203.25 L192.31 203.28 L193.01 203.34 L193.71 203.53 L194.41 203.26 L195.11 203.41 L195.81 203.32 L196.51 203.33 L197.21 203.46 L197.91 203.79 L198.61 203.63 L199.31 203.86 L200.01 203.49 L200.71 203.8 L201.41 203.59 L202.11 203.42 L202.81 203.69 L203.51 203.89 L204.21 203.43 L204.91 203.43 L205.61 203.72 L206.31 203.58 L207.01 203.47 L207.71 203.3 L208.41 203.26 L209.11 203.58 L209.81 203.9 L210.51 204.02 L211.21 203.77 L211.91 203.39 L212.61 203.42 L213.31 203.69 L214.01 203.79 L214.71 203.69 L215.41 203.38 L216.11 203.4 L216.8 203.31 L217.49 203.26 L218.13 202.81 L218.58 202.64 L218.44 202.05 L218.02 201.1 L217.53 200.54 L217.46 200.82 L217.62 201.26 L217.76 202.26 L217.94 202.79 L218.38 203.04 L218.65 202.42 L218.85 201.48 L219.04 200.75 L219.24 200.04 L219.45 199.61 L219.69 199.04 L219.97 198.1 L220.31 197.82 L220.7 197.09 L221.13 196.38 L221.58 195.9 L222.05 195.72 L222.53 195.09 L223.03 194.59 L223.54 194.28 L224.06 193.9 L224.6 193.36 L225.15 192.7 L225.73 192.32 L226.31 192.13 L226.93 191.79 L227.57 191.38 L228.22 190.96 L228.89 190.7 L229.56 190.71 L230.24 190.5 L230.92 189.99 L231.59 190.1 L232.28 190.15 L232.96 190.01 L233.64 189.91 L234.32 189.8 L235.01 189.44 L235.69 189.38 L236.38 189.03 L237.07 188.66 L237.76 188.61 L238.45 188.49 L239.14 188.74 L239.83 188.62 L240.53 188.44 L241.22 188.37 L241.92 188 L242.61 188.08 L243.31 188.17 L244.01 188 L244.71 187.84 L245.41 187.86 L246.11 187.8 L246.81 187.98 L247.51 187.72 L248.21 187.58 L248.91 187.65 L249.61 187.89 L250.31 187.99 L251.01 187.95 L251.71 188.08 L252.41 187.78 L253.11 187.46 L253.8 187.6 L254.5 187.61 L255.2 187.44 L255.9 187.65 L256.6 187.52 L257.3 187.4 L258 187.4 L258.7 187.74 L259.4 187.3 L260.1 187.34 L260.8 187.29 L261.5 187.21 L262.2 187.31 L262.9 187.2 L263.6 187.56 L264.3 187.43 L265 187.48 L265.7 187.17 L266.4 187.23 L266.4 187.34" fill="none" stroke="#878787" stroke-width="1.6" stroke-linejoin="round" stroke-linecap="butt" />
<path d="M154.4 186.36 L154.47 187.26 L154.54 188.02 L154.61 188.84 L154.68 189.19 L154.76 189.79 L154.83 190.4 L154.9 191.12 L154.98 192.12 L155.06 192.57 L155.15 193.41 L155.23 193.97 L155.32 194.66 L155.41 195.44 L155.5 196.4 L155.61 197.05 L155.72 197.38 L155.85 198.09 L156.01 198.71 L156.21 199.78 L156.44 200.54 L156.72 201.22 L157.03 201.87 L157.35 202.45 L157.72 203.16 L158.15 203.65 L158.67 203.79 L159.25 204.4 L159.88 204.57 L160.54 204.92 L160.66 205.26 L161.36 205.22 L162.06 205.18 L162.76 205.21 L163.46 205.17 L164.16 205.04 L164.86 205.41 L165.56 205.53 L166.26 205.68 L166.96 205.56 L167.66 205.44 L168.36 205.52 L169.06 205.18 L169.76 205.38 L170.46 205.31 L171.16 205.13 L171.86 205.08 L172.56 205.25 L173.26 205.15 L173.96 205.24 L174.66 205.35 L175.36 205.26 L176.06 205.08 L176.76 205.22 L177.46 205.12 L178.16 205.08 L178.86 205.04 L179.56 205.13 L180.26 204.98 L180.96 205.27 L181.66 205.54 L182.36 205.31 L183.06 205.41 L183.76 205.57 L184.46 205.11 L185.16 205 L185.86 205.35 L186.56 205.49 L187.26 205.42 L187.96 205.11 L188.66 205.15 L189.36 205.43 L190.06 205.54 L190.76 205.53 L191.46 205.18 L192.16 205.44 L192.86 205.25 L193.56 205.39 L194.26 205.1 L194.96 205.5 L195.66 205.42 L196.36 205.47 L197.06 205.2 L197.76 205.35 L198.46 205.38 L199.16 205.41 L199.86 205.29 L200.56 205.47 L201.26 205.31 L201.96 205.24 L202.66 205.14 L203.36 205.41 L204.06 205.18 L204.76 205.17 L205.46 205.08 L206.16 205.39 L206.86 205.45 L207.56 205.46 L208.26 205.17 L208.96 205.31 L209.66 205.3 L210.36 205.14 L211.06 205.03 L211.76 205.57 L212.46 205.23 L213.16 205.21 L213.86 205.17 L214.56 205.32 L215.25 205.04 L215.95 205.13 L216.65 205.04 L217.34 205.2 L218 204.6 L218.52 204.21 L218.47 203.66 L218.06 203.42 L217.58 202.76 L217.42 202.19 L217.74 202.9 L218.21 203.03 L218.53 202.19 L218.75 201.72 L218.94 201.36 L219.13 200.69 L219.34 199.75 L219.58 199.24 L219.85 198.74 L220.16 197.83 L220.54 197.33 L220.96 196.66 L221.4 196.02 L221.87 195.48 L222.34 194.92 L222.84 194.49 L223.34 193.85 L223.86 193.53 L224.39 192.95 L224.94 192.86 L225.5 192.47 L226.09 191.75 L226.69 191.72 L227.32 191.19 L227.97 191.02 L228.63 190.88 L229.3 190.58 L229.98 190.34 L230.66 190.22 L231.33 189.89 L232.01 190.09 L232.69 189.62 L233.38 189.78 L234.06 189.38 L234.74 189.2 L235.43 189.09 L236.12 188.76 L236.81 188.62 L237.49 188.62 L238.18 188.6 L238.87 188.77 L239.57 188.83 L240.26 188.24 L240.95 188.26 L241.65 187.99 L242.35 188.25 L243.04 188.02 L243.74 188.25 L244.44 188.11 L245.14 187.79 L245.84 187.6 L246.54 187.66 L247.24 188.03 L247.94 187.73 L248.64 187.81 L249.34 187.76 L250.04 187.71 L250.74 187.95 L251.44 187.67 L252.14 187.85 L252.84 187.86 L253.54 188.01 L254.24 187.8 L254.94 187.95 L255.63 187.71 L256.33 187.68 L257.03 187.69 L257.73 187.8 L258.43 187.86 L259.13 187.41 L259.83 187.25 L260.53 187.41 L261.23 187.62 L261.93 187.51 L262.63 187.33 L263.33 187.63 L264.03 187.34 L264.73 187.1 L265.43 186.98 L266.13 186.91 L266.4 187.29" fill="none" stroke="#686868" stroke-width="1.6" stroke-linejoin="round" stroke-linecap="butt" />
<path d="M154.4 186.27 L154.46 187.24 L154.52 188 L154.58 188.89 L154.64 189.26 L154.7 189.83 L154.76 190.77 L154.82 191.5 L154.88 192.01 L154.95 192.86 L155.01 193.44 L155.08 194.32 L155.15 194.7 L155.23 195.34 L155.3 196.42 L155.37 196.93 L155.45 197.5 L155.53 198.47 L155.62 199.16 L155.72 199.57 L155.83 200.4 L155.95 201.2 L156.11 201.63 L156.29 202.5 L156.5 202.93 L156.75 203.63 L157.01 204.14 L157.29 204.81 L157.6 205.9 L157.95 206.32 L158.38 207.16 L158.89 207.41 L159.47 207.83 L160.09 208.31 L160.67 208.59 L160.81 208.62 L161.5 208.84 L162.2 208.95 L162.9 208.73 L163.6 208.61 L164.3 209.02 L165 208.96 L165.7 208.75 L166.4 208.82 L167.1 208.71 L167.8 209 L168.5 208.93 L169.2 208.67 L169.9 208.99 L170.6 208.67 L171.3 208.66 L172 208.51 L172.7 208.87 L173.4 208.62 L174.1 208.77 L174.8 208.56 L175.5 208.71 L176.2 208.87 L176.9 208.83 L177.6 208.77 L178.3 208.75 L179 208.71 L179.7 208.79 L180.4 208.51 L181.1 208.63 L181.8 208.53 L182.5 208.85 L183.2 209 L183.9 208.54 L184.6 208.41 L185.3 208.69 L186 208.7 L186.7 208.38 L187.4 208.66 L188.1 208.89 L188.8 208.66 L189.5 208.53 L190.2 208.61 L190.9 208.86 L191.6 208.54 L192.3 208.45 L193 208.35 L193.7 208.58 L194.4 208.56 L195.1 208.43 L195.8 208.47 L196.5 208.27 L197.2 208.37 L197.9 208.8 L198.6 208.72 L199.3 208.51 L200 208.83 L200.7 208.6 L201.4 208.46 L202.1 208.29 L202.8 208.29 L203.5 208.33 L204.2 208.36 L204.9 208.75 L205.6 208.52 L206.3 208.44 L207 208.61 L207.7 208.86 L208.4 208.57 L209.1 208.74 L209.8 208.57 L210.5 208.61 L211.2 208.64 L211.9 208.84 L212.6 208.78 L213.3 208.6 L214 208.71 L214.7 208.44 L215.4 208.33 L216.09 208.57 L216.79 208.35 L217.47 208.31 L218.13 207.85 L218.58 207.63 L218.32 206.92 L217.85 206.16 L217.4 205.94 L217.39 205.12 L217.67 204.35 L217.97 203.62 L218.24 202.85 L218.48 202.21 L218.68 201.83 L218.88 200.94 L219.08 200.26 L219.3 199.7 L219.55 199.14 L219.83 198.44 L220.15 198.04 L220.54 197.22 L220.95 196.64 L221.4 196.12 L221.86 195.43 L222.34 194.92 L222.83 194.37 L223.33 194.21 L223.85 193.52 L224.38 193.29 L224.93 192.67 L225.49 192.44 L226.08 192.12 L226.68 191.61 L227.31 191.59 L227.96 191.27 L228.62 190.97 L229.29 190.45 L229.97 190.36 L230.64 190.13 L231.32 190.06 L232 190.2 L232.68 190.1 L233.36 189.5 L234.05 189.55 L234.73 189.63 L235.42 189.33 L236.11 188.89 L236.79 189.1 L237.48 188.83 L238.17 188.99 L238.86 188.91 L239.55 188.79 L240.25 188.74 L240.94 188.17 L241.64 188.34 L242.33 188.08 L243.03 187.85 L243.73 187.89 L244.43 188.01 L245.13 187.69 L245.83 187.82 L246.53 188.05 L247.23 187.95 L247.93 187.93 L248.63 187.77 L249.33 188.1 L250.03 187.77 L250.73 187.9 L251.42 187.9 L252.12 187.51 L252.82 187.94 L253.52 187.63 L254.22 187.94 L254.92 188 L255.62 187.99 L256.32 187.95 L257.02 187.65 L257.72 187.56 L258.42 187.45 L259.12 187.75 L259.82 187.31 L260.52 187.2 L261.22 187.63 L261.92 187.68 L262.62 187.62 L263.32 187.74 L264.02 187.51 L264.72 187.6 L265.42 187.38 L266.12 187.56 L266.4 187.14" fill="none" stroke="#414141" stroke-width="1.6" stroke-linejoin="round" stroke-linecap="butt" />
<path d="M154.4 186.77 L154.45 187.01 L154.49 187.97 L154.53 188.42 L154.58 189.52 L154.62 189.79 L154.67 190.84 L154.71 191.55 L154.76 192.35 L154.8 193.17 L154.85 193.47 L154.9 194.08 L154.95 194.97 L155 195.48 L155.05 196.11 L155.1 196.76 L155.16 197.81 L155.21 198.64 L155.26 199.34 L155.32 199.7 L155.38 200.69 L155.43 201.25 L155.49 201.73 L155.56 202.49 L155.62 203.18 L155.69 203.68 L155.77 204.59 L155.86 205.24 L155.96 206.04 L156.07 206.98 L156.2 207.59 L156.35 208.1 L156.52 208.99 L156.71 209.82 L156.91 210.24 L157.12 211.09 L157.34 211.28 L157.58 211.84 L157.86 212.47 L158.19 213.53 L158.58 214.12 L159.04 214.66 L159.57 214.87 L160.16 215.29 L160.67 215.95 L160.67 216.12 L161.36 216.09 L162.06 216.03 L162.76 216.26 L163.46 216.55 L164.16 216.47 L164.86 216.34 L165.56 216.34 L166.25 216.13 L166.95 216.49 L167.65 216.25 L168.35 216.07 L169.05 216.04 L169.75 216.3 L170.45 216.08 L171.15 216.32 L171.85 216.05 L172.55 215.99 L173.25 215.73 L173.95 216.1 L174.65 216.15 L175.34 215.95 L176.04 215.64 L176.74 215.73 L177.44 215.67 L178.14 215.9 L178.84 216 L179.54 215.91 L180.24 215.58 L180.94 215.3 L181.63 215.67 L182.33 215.81 L183.03 215.37 L183.73 215.4 L184.43 215.37 L185.13 215.62 L185.83 215.14 L186.53 214.96 L187.23 215.33 L187.93 215.28 L188.62 215.17 L189.32 215.3 L190.02 215.21 L190.72 215.22 L191.42 214.95 L192.12 214.73 L192.82 214.59 L193.52 214.72 L194.22 214.93 L194.92 214.83 L195.62 214.76 L196.32 214.88 L197.02 214.95 L197.72 214.9 L198.42 214.7 L199.12 214.91 L199.82 214.96 L200.52 215.02 L201.22 215.02 L201.91 214.49 L202.61 214.67 L203.31 214.53 L204.01 214.49 L204.71 214.54 L205.41 214.32 L206.11 214.28 L206.81 214.68 L207.51 214.42 L208.21 214.65 L208.91 214.57 L209.61 214.31 L210.31 214.19 L211.01 214.3 L211.71 214.36 L212.4 214.14 L213.1 213.87 L213.8 213.8 L214.5 214.13 L215.19 214.13 L215.89 213.7 L216.58 213.9 L217.27 213.73 L217.94 213.38 L218.52 213.29 L218.38 212.32 L217.89 211.68 L217.44 211.24 L217.31 210.83 L217.46 210.13 L217.59 209.4 L217.71 208.94 L217.84 208.03 L217.97 207.5 L218.11 206.41 L218.27 206.04 L218.41 205.1 L218.55 204.61 L218.68 204.1 L218.8 203.37 L218.93 202.62 L219.06 201.9 L219.2 201.32 L219.36 200.45 L219.54 199.62 L219.74 199.09 L219.97 198.46 L220.25 197.59 L220.58 197.14 L220.96 196.57 L221.37 195.83 L221.82 195.56 L222.3 195.18 L222.81 194.48 L223.33 194.25 L223.87 193.96 L224.43 193.4 L224.99 192.79 L225.56 192.23 L226.15 191.71 L226.75 191.4 L227.38 191.53 L228.03 190.88 L228.7 191.03 L229.37 190.84 L230.05 190.7 L230.72 190.14 L231.4 190.15 L232.08 189.79 L232.76 189.84 L233.45 189.82 L234.13 189.68 L234.81 189.43 L235.5 189.45 L236.19 188.99 L236.87 188.71 L237.56 188.94 L238.25 188.48 L238.94 188.45 L239.64 188.38 L240.33 188.56 L241.02 188.28 L241.72 188.25 L242.42 188.16 L243.11 188.08 L243.81 188.02 L244.51 187.98 L245.21 188.02 L245.91 187.93 L246.61 187.88 L247.31 188.14 L248.01 188.25 L248.71 187.85 L249.41 188.11 L250.11 187.65 L250.81 187.65 L251.51 187.96 L252.21 187.63 L252.91 187.79 L253.61 188.02 L254.31 187.86 L255.01 187.7 L255.71 187.38 L256.4 187.49 L257.1 187.53 L257.8 187.72 L258.5 187.53 L259.2 187.7 L259.9 187.51 L260.6 187.56 L261.3 187.64 L262 187.3 L262.7 187.63 L263.4 187.44 L264.1 187.38 L264.8 187.63 L265.5 187.47 L266.2 187.37 L266.4 187.15" fill="none" stroke="#141414" stroke-width="2.0" stroke-linejoin="round" stroke-linecap="butt" />
<path d="M141.3 186.51 L142 186.51 L142.7 186.57 L143.4 186.69 L144.1 186.42 L144.8 186.55 L145.49 186.75 L146.19 186.82 L146.89 186.71 L147.59 186.47 L148.29 186.51 L148.99 186.83 L149.69 186.47 L150.39 186.45 L151.09 186.77 L151.79 186.61 L152.49 186.41 L153.19 186.39 L153.89 186.68 L154.59 186.47 L154.6 186.45" fill="none" stroke="#141414" stroke-width="2.0" stroke-linejoin="round" stroke-linecap="butt" />
<text x="251" y="36.4" font-size="12" text-anchor="start" fill="#231f20" font-weight="normal" stroke="#231f20" stroke-width="0.05" >V</text>
<text x="258.6" y="39.6" font-size="6.6" text-anchor="start" fill="#231f20" font-weight="normal" stroke="#231f20" stroke-width="0.05" >hold</text>
<text x="275.6" y="36.4" font-size="12" text-anchor="start" fill="#231f20" font-weight="normal" stroke="#231f20" stroke-width="0.05" >(mV)</text>
<line x1="256.3" y1="53.4" x2="279" y2="53.4" stroke="#b4b4b4" stroke-width="1.4" />
<text x="283.6" y="57.3" font-size="12" text-anchor="start" fill="#231f20" font-weight="normal" stroke="#231f20" stroke-width="0.05" >-55</text>
<line x1="256.3" y1="67" x2="279" y2="67" stroke="#959595" stroke-width="1.5" />
<text x="283.6" y="70.9" font-size="12" text-anchor="start" fill="#231f20" font-weight="normal" stroke="#231f20" stroke-width="0.05" >-60</text>
<line x1="256.3" y1="80.4" x2="279" y2="80.4" stroke="#777777" stroke-width="1.5" />
<text x="283.6" y="84.3" font-size="12" text-anchor="start" fill="#231f20" font-weight="normal" stroke="#231f20" stroke-width="0.05" >-65</text>
<line x1="256.3" y1="94" x2="279" y2="94" stroke="#4d4d4d" stroke-width="1.6" />
<text x="283.6" y="97.9" font-size="12" text-anchor="start" fill="#231f20" font-weight="normal" stroke="#231f20" stroke-width="0.05" >-70</text>
<line x1="256.3" y1="107.5" x2="279" y2="107.5" stroke="#1a1a1a" stroke-width="1.9" />
<text x="283.6" y="111.4" font-size="12" text-anchor="start" fill="#231f20" font-weight="normal" stroke="#231f20" stroke-width="0.05" >-80</text>
<path d="M259.4 146.9 L259.4 162.8 L288.8 162.8" fill="none" stroke="#000" stroke-width="1.3" stroke-linejoin="round" stroke-linecap="butt" />
<text x="255.1" y="148.7" font-size="8.3" text-anchor="middle" fill="#231f20" font-weight="normal" stroke="#231f20" stroke-width="0.05" transform="rotate(-90 255.1 148.7)">100 pA</text>
<text x="273.6" y="171.2" font-size="8.3" text-anchor="middle" fill="#231f20" font-weight="normal" stroke="#231f20" stroke-width="0.05" >100 ms</text>
<text x="234.6" y="222.9" font-size="11.8" text-anchor="start" fill="#fcd4d5" font-weight="normal" stroke="#fcd4d5" stroke-width="0.05" >0.44 mW µm<tspan font-size="7" dy="-4.3">-2</tspan></text>
<text x="234.6" y="237.8" font-size="11.8" text-anchor="start" fill="#df9597" font-weight="normal" stroke="#df9597" stroke-width="0.05" >1.00 mW µm<tspan font-size="7" dy="-4.3">-2</tspan></text>
<text x="342.6" y="17.3" font-size="24" text-anchor="start" fill="#111" font-weight="bold" >b</text>
<line x1="391.1" y1="36.6" x2="391.1" y2="234.8" stroke="#111" stroke-width="1.4" />
<line x1="390.5" y1="234.2" x2="676.4" y2="234.2" stroke="#111" stroke-width="1.4" />
<line x1="388.1" y1="59.9" x2="391.1" y2="59.9" stroke="#111" stroke-width="1.2" />
<text x="385.8" y="64" font-size="12" text-anchor="end" fill="#231f20" font-weight="normal" stroke="#231f20" stroke-width="0.05" >1.5</text>
<line x1="388.1" y1="91.3" x2="391.1" y2="91.3" stroke="#111" stroke-width="1.2" />
<text x="385.8" y="95.4" font-size="12" text-anchor="end" fill="#231f20" font-weight="normal" stroke="#231f20" stroke-width="0.05" >1.0</text>
<line x1="388.1" y1="122.7" x2="391.1" y2="122.7" stroke="#111" stroke-width="1.2" />
<text x="385.8" y="126.8" font-size="12" text-anchor="end" fill="#231f20" font-weight="normal" stroke="#231f20" stroke-width="0.05" >0.5</text>
<line x1="388.1" y1="154.1" x2="391.1" y2="154.1" stroke="#111" stroke-width="1.2" />
<text x="385.8" y="158.2" font-size="12" text-anchor="end" fill="#231f20" font-weight="normal" stroke="#231f20" stroke-width="0.05" >0.0</text>
<line x1="388.1" y1="185.5" x2="391.1" y2="185.5" stroke="#111" stroke-width="1.2" />
<text x="385.8" y="189.6" font-size="12" text-anchor="end" fill="#231f20" font-weight="normal" stroke="#231f20" stroke-width="0.05" >- 0.5</text>
<line x1="388.1" y1="216.9" x2="391.1" y2="216.9" stroke="#111" stroke-width="1.2" />
<text x="385.8" y="221" font-size="12" text-anchor="end" fill="#231f20" font-weight="normal" stroke="#231f20" stroke-width="0.05" >-1.0</text>
<line x1="403.1" y1="234.2" x2="403.1" y2="237.2" stroke="#111" stroke-width="1.2" />
<text x="403.1" y="247.8" font-size="12" text-anchor="middle" fill="#231f20" font-weight="normal" stroke="#231f20" stroke-width="0.05" >850</text>
<line x1="454.8" y1="234.2" x2="454.8" y2="237.2" stroke="#111" stroke-width="1.2" />
<text x="454.8" y="247.8" font-size="12" text-anchor="middle" fill="#231f20" font-weight="normal" stroke="#231f20" stroke-width="0.05" >900</text>
<line x1="506.5" y1="234.2" x2="506.5" y2="237.2" stroke="#111" stroke-width="1.2" />
<text x="506.5" y="247.8" font-size="12" text-anchor="middle" fill="#231f20" font-weight="normal" stroke="#231f20" stroke-width="0.05" >950</text>
<line x1="558.2" y1="234.2" x2="558.2" y2="237.2" stroke="#111" stroke-width="1.2" />
<text x="558.2" y="247.8" font-size="12" text-anchor="middle" fill="#231f20" font-weight="normal" stroke="#231f20" stroke-width="0.05" >1000</text>
<line x1="609.9" y1="234.2" x2="609.9" y2="237.2" stroke="#111" stroke-width="1.2" />
<text x="609.9" y="247.8" font-size="12" text-anchor="middle" fill="#231f20" font-weight="normal" stroke="#231f20" stroke-width="0.05" >1050</text>
<line x1="661.6" y1="234.2" x2="661.6" y2="237.2" stroke="#111" stroke-width="1.2" />
<text x="661.6" y="247.8" font-size="12" text-anchor="middle" fill="#231f20" font-weight="normal" stroke="#231f20" stroke-width="0.05" >1100</text>
<text x="531.4" y="260.3" font-size="12" text-anchor="middle" fill="#231f20" font-weight="normal" stroke="#231f20" stroke-width="0.05" >Wavelength (nm)</text>
<text x="357.3" y="136.7" font-size="12" text-anchor="middle" fill="#231f20" font-weight="normal" stroke="#231f20" stroke-width="0.05" transform="rotate(-90 357.3 136.7)">Peak 2P photocurrent (norm.)</text>
<line x1="475.3" y1="37" x2="475.3" y2="230.2" stroke="#fba0a5" stroke-width="3.4" stroke-dasharray="2.0 4.79" stroke-linecap="round"/>
<line x1="661.3" y1="37.3" x2="661.3" y2="230.4" stroke="#c0232e" stroke-width="3.8" stroke-dasharray="1.3 5.5" stroke-linecap="round"/>
<line x1="391.1" y1="154.1" x2="677" y2="154.1" stroke="#111" stroke-width="1.8" stroke-dasharray="7.1 6.4" stroke-dashoffset="2.8"/>
<text x="476" y="33.4" font-size="12" text-anchor="middle" fill="#231f20" font-weight="normal" stroke="#231f20" stroke-width="0.05" >920 nm</text>
<text x="640.3" y="33.2" font-size="12" text-anchor="start" fill="#231f20" font-weight="normal" stroke="#231f20" stroke-width="0.05" >1100 nm</text>
<path d="M403.1 80.69 L454.8 60.4 L475.48 60.4 L506.5 61.03 L537.52 96.51 L558.2 123.7 L609.9 183.62 L661.6 216.9" fill="none" stroke="#aaaaaa" stroke-width="1.8" stroke-linejoin="round" stroke-linecap="butt" />
<line x1="403.1" y1="68.88" x2="403.1" y2="92.49" stroke="#aaaaaa" stroke-width="1.7" />
<line x1="399.6" y1="68.88" x2="406.6" y2="68.88" stroke="#aaaaaa" stroke-width="1.7" />
<line x1="399.6" y1="92.49" x2="406.6" y2="92.49" stroke="#aaaaaa" stroke-width="1.7" />
<circle cx="403.1" cy="80.69" r="2.9" fill="#aaaaaa" stroke="none" stroke-width="0"/>
<line x1="454.8" y1="48.47" x2="454.8" y2="72.33" stroke="#aaaaaa" stroke-width="1.7" />
<line x1="451.3" y1="48.47" x2="458.3" y2="48.47" stroke="#aaaaaa" stroke-width="1.7" />
<line x1="451.3" y1="72.33" x2="458.3" y2="72.33" stroke="#aaaaaa" stroke-width="1.7" />
<circle cx="454.8" cy="60.4" r="2.9" fill="#aaaaaa" stroke="none" stroke-width="0"/>
<line x1="475.48" y1="49.6" x2="475.48" y2="71.2" stroke="#aaaaaa" stroke-width="1.7" />
<line x1="471.98" y1="49.6" x2="478.98" y2="49.6" stroke="#aaaaaa" stroke-width="1.7" />
<line x1="471.98" y1="71.2" x2="478.98" y2="71.2" stroke="#aaaaaa" stroke-width="1.7" />
<circle cx="475.48" cy="60.4" r="2.9" fill="#aaaaaa" stroke="none" stroke-width="0"/>
<line x1="506.5" y1="48.91" x2="506.5" y2="73.15" stroke="#aaaaaa" stroke-width="1.7" />
<line x1="503" y1="48.91" x2="510" y2="48.91" stroke="#aaaaaa" stroke-width="1.7" />
<line x1="503" y1="73.15" x2="510" y2="73.15" stroke="#aaaaaa" stroke-width="1.7" />
<circle cx="506.5" cy="61.03" r="2.9" fill="#aaaaaa" stroke="none" stroke-width="0"/>
<line x1="537.52" y1="86.9" x2="537.52" y2="106.12" stroke="#aaaaaa" stroke-width="1.7" />
<line x1="534.02" y1="86.9" x2="541.02" y2="86.9" stroke="#aaaaaa" stroke-width="1.7" />
<line x1="534.02" y1="106.12" x2="541.02" y2="106.12" stroke="#aaaaaa" stroke-width="1.7" />
<circle cx="537.52" cy="96.51" r="2.9" fill="#aaaaaa" stroke="none" stroke-width="0"/>
<line x1="558.2" y1="112.65" x2="558.2" y2="134.76" stroke="#aaaaaa" stroke-width="1.7" />
<line x1="554.7" y1="112.65" x2="561.7" y2="112.65" stroke="#aaaaaa" stroke-width="1.7" />
<line x1="554.7" y1="134.76" x2="561.7" y2="134.76" stroke="#aaaaaa" stroke-width="1.7" />
<circle cx="558.2" cy="123.7" r="2.9" fill="#aaaaaa" stroke="none" stroke-width="0"/>
<line x1="609.9" y1="181.73" x2="609.9" y2="185.5" stroke="#aaaaaa" stroke-width="1.7" />
<line x1="606.4" y1="181.73" x2="613.4" y2="181.73" stroke="#aaaaaa" stroke-width="1.7" />
<line x1="606.4" y1="185.5" x2="613.4" y2="185.5" stroke="#aaaaaa" stroke-width="1.7" />
<circle cx="609.9" cy="183.62" r="2.9" fill="#aaaaaa" stroke="none" stroke-width="0"/>
<circle cx="661.6" cy="216.9" r="2.9" fill="#aaaaaa" stroke="none" stroke-width="0"/>
<path d="M403.1 129.61 L454.8 122.07 L475.48 113.91 L506.5 118.3 L537.52 132.75 L558.2 159.81 L609.9 184.24 L661.6 216.9" fill="none" stroke="#8e8e8e" stroke-width="1.8" stroke-linejoin="round" stroke-linecap="butt" />
<line x1="403.1" y1="125.84" x2="403.1" y2="133.38" stroke="#8e8e8e" stroke-width="1.7" />
<line x1="399.6" y1="125.84" x2="406.6" y2="125.84" stroke="#8e8e8e" stroke-width="1.7" />
<line x1="399.6" y1="133.38" x2="406.6" y2="133.38" stroke="#8e8e8e" stroke-width="1.7" />
<circle cx="403.1" cy="129.61" r="2.9" fill="#8e8e8e" stroke="none" stroke-width="0"/>
<line x1="454.8" y1="115.79" x2="454.8" y2="128.35" stroke="#8e8e8e" stroke-width="1.7" />
<line x1="451.3" y1="115.79" x2="458.3" y2="115.79" stroke="#8e8e8e" stroke-width="1.7" />
<line x1="451.3" y1="128.35" x2="458.3" y2="128.35" stroke="#8e8e8e" stroke-width="1.7" />
<circle cx="454.8" cy="122.07" r="2.9" fill="#8e8e8e" stroke="none" stroke-width="0"/>
<line x1="475.48" y1="107" x2="475.48" y2="120.82" stroke="#8e8e8e" stroke-width="1.7" />
<line x1="471.98" y1="107" x2="478.98" y2="107" stroke="#8e8e8e" stroke-width="1.7" />
<line x1="471.98" y1="120.82" x2="478.98" y2="120.82" stroke="#8e8e8e" stroke-width="1.7" />
<circle cx="475.48" cy="113.91" r="2.9" fill="#8e8e8e" stroke="none" stroke-width="0"/>
<line x1="506.5" y1="112.02" x2="506.5" y2="124.58" stroke="#8e8e8e" stroke-width="1.7" />
<line x1="503" y1="112.02" x2="510" y2="112.02" stroke="#8e8e8e" stroke-width="1.7" />
<line x1="503" y1="124.58" x2="510" y2="124.58" stroke="#8e8e8e" stroke-width="1.7" />
<circle cx="506.5" cy="118.3" r="2.9" fill="#8e8e8e" stroke="none" stroke-width="0"/>
<line x1="537.52" y1="130.24" x2="537.52" y2="135.26" stroke="#8e8e8e" stroke-width="1.7" />
<line x1="534.02" y1="130.24" x2="541.02" y2="130.24" stroke="#8e8e8e" stroke-width="1.7" />
<line x1="534.02" y1="135.26" x2="541.02" y2="135.26" stroke="#8e8e8e" stroke-width="1.7" />
<circle cx="537.52" cy="132.75" r="2.9" fill="#8e8e8e" stroke="none" stroke-width="0"/>
<line x1="558.2" y1="153.22" x2="558.2" y2="166.41" stroke="#8e8e8e" stroke-width="1.7" />
<line x1="554.7" y1="153.22" x2="561.7" y2="153.22" stroke="#8e8e8e" stroke-width="1.7" />
<line x1="554.7" y1="166.41" x2="561.7" y2="166.41" stroke="#8e8e8e" stroke-width="1.7" />
<circle cx="558.2" cy="159.81" r="2.9" fill="#8e8e8e" stroke="none" stroke-width="0"/>
<line x1="609.9" y1="182.36" x2="609.9" y2="186.13" stroke="#8e8e8e" stroke-width="1.7" />
<line x1="606.4" y1="182.36" x2="613.4" y2="182.36" stroke="#8e8e8e" stroke-width="1.7" />
<line x1="606.4" y1="186.13" x2="613.4" y2="186.13" stroke="#8e8e8e" stroke-width="1.7" />
<circle cx="609.9" cy="184.24" r="2.9" fill="#8e8e8e" stroke="none" stroke-width="0"/>
<circle cx="661.6" cy="216.9" r="2.9" fill="#8e8e8e" stroke="none" stroke-width="0"/>
<path d="M403.1 205.09 L454.8 213.89 L475.48 216.08 L506.5 208.74 L537.52 199.94 L558.2 199.94 L609.9 204.97 L661.6 216.9" fill="none" stroke="#151515" stroke-width="1.9" stroke-linejoin="round" stroke-linecap="butt" />
<line x1="403.1" y1="193.29" x2="403.1" y2="216.9" stroke="#151515" stroke-width="1.7" />
<line x1="399.6" y1="193.29" x2="406.6" y2="193.29" stroke="#151515" stroke-width="1.7" />
<line x1="399.6" y1="216.9" x2="406.6" y2="216.9" stroke="#151515" stroke-width="1.7" />
<circle cx="403.1" cy="205.09" r="3.3" fill="#151515" stroke="none" stroke-width="0"/>
<line x1="454.8" y1="201.95" x2="454.8" y2="225.82" stroke="#151515" stroke-width="1.7" />
<line x1="451.3" y1="201.95" x2="458.3" y2="201.95" stroke="#151515" stroke-width="1.7" />
<line x1="451.3" y1="225.82" x2="458.3" y2="225.82" stroke="#151515" stroke-width="1.7" />
<circle cx="454.8" cy="213.89" r="3.3" fill="#151515" stroke="none" stroke-width="0"/>
<line x1="475.48" y1="203.84" x2="475.48" y2="228.33" stroke="#151515" stroke-width="1.7" />
<line x1="471.98" y1="203.84" x2="478.98" y2="203.84" stroke="#151515" stroke-width="1.7" />
<line x1="471.98" y1="228.33" x2="478.98" y2="228.33" stroke="#151515" stroke-width="1.7" />
<circle cx="475.48" cy="216.08" r="3.3" fill="#151515" stroke="none" stroke-width="0"/>
<line x1="506.5" y1="198.69" x2="506.5" y2="218.78" stroke="#151515" stroke-width="1.7" />
<line x1="503" y1="198.69" x2="510" y2="198.69" stroke="#151515" stroke-width="1.7" />
<line x1="503" y1="218.78" x2="510" y2="218.78" stroke="#151515" stroke-width="1.7" />
<circle cx="506.5" cy="208.74" r="3.3" fill="#151515" stroke="none" stroke-width="0"/>
<line x1="537.52" y1="194.92" x2="537.52" y2="204.97" stroke="#151515" stroke-width="1.7" />
<line x1="534.02" y1="194.92" x2="541.02" y2="194.92" stroke="#151515" stroke-width="1.7" />
<line x1="534.02" y1="204.97" x2="541.02" y2="204.97" stroke="#151515" stroke-width="1.7" />
<circle cx="537.52" cy="199.94" r="3.3" fill="#151515" stroke="none" stroke-width="0"/>
<line x1="558.2" y1="195.55" x2="558.2" y2="204.34" stroke="#151515" stroke-width="1.7" />
<line x1="554.7" y1="195.55" x2="561.7" y2="195.55" stroke="#151515" stroke-width="1.7" />
<line x1="554.7" y1="204.34" x2="561.7" y2="204.34" stroke="#151515" stroke-width="1.7" />
<circle cx="558.2" cy="199.94" r="3.3" fill="#151515" stroke="none" stroke-width="0"/>
<line x1="609.9" y1="203.08" x2="609.9" y2="206.85" stroke="#151515" stroke-width="1.7" />
<line x1="606.4" y1="203.08" x2="613.4" y2="203.08" stroke="#151515" stroke-width="1.7" />
<line x1="606.4" y1="206.85" x2="613.4" y2="206.85" stroke="#151515" stroke-width="1.7" />
<circle cx="609.9" cy="204.97" r="3.3" fill="#151515" stroke="none" stroke-width="0"/>
<circle cx="661.6" cy="216.9" r="3.3" fill="#151515" stroke="none" stroke-width="0"/>
<text x="585.9" y="71" font-size="12" text-anchor="start" fill="#231f20" font-weight="normal" stroke="#231f20" stroke-width="0.05" >V</text>
<text x="593.6" y="74.2" font-size="6.6" text-anchor="start" fill="#231f20" font-weight="normal" stroke="#231f20" stroke-width="0.05" >hold</text>
<text x="610.5" y="71" font-size="12" text-anchor="start" fill="#231f20" font-weight="normal" stroke="#231f20" stroke-width="0.05" >(mV)</text>
<line x1="585.9" y1="81.5" x2="603.5" y2="81.5" stroke="#aaaaaa" stroke-width="1.9" />
<text x="608" y="85.5" font-size="12" text-anchor="start" fill="#231f20" font-weight="normal" stroke="#231f20" stroke-width="0.05" >-55</text>
<line x1="585.9" y1="93.3" x2="603.5" y2="93.3" stroke="#8e8e8e" stroke-width="1.9" />
<text x="608" y="97.3" font-size="12" text-anchor="start" fill="#231f20" font-weight="normal" stroke="#231f20" stroke-width="0.05" >-60</text>
<line x1="585.9" y1="105.9" x2="603.5" y2="105.9" stroke="#151515" stroke-width="1.9" />
<text x="608" y="109.9" font-size="12" text-anchor="start" fill="#231f20" font-weight="normal" stroke="#231f20" stroke-width="0.05" >-80</text>
<text x="0" y="287.3" font-size="24" text-anchor="start" fill="#111" font-weight="bold" >c</text>
<line x1="45.1" y1="309.2" x2="45.1" y2="429.2" stroke="#111" stroke-width="1.5" />
<line x1="44.4" y1="428.5" x2="206.2" y2="428.5" stroke="#111" stroke-width="1.5" />
<line x1="42.1" y1="321.8" x2="45.1" y2="321.8" stroke="#111" stroke-width="1.2" />
<text x="39.2" y="325.2" font-size="11.6" text-anchor="end" fill="#231f20" font-weight="normal" stroke="#231f20" stroke-width="0.05" >1.0</text>
<line x1="42.1" y1="346.6" x2="45.1" y2="346.6" stroke="#111" stroke-width="1.2" />
<text x="39.2" y="350" font-size="11.6" text-anchor="end" fill="#231f20" font-weight="normal" stroke="#231f20" stroke-width="0.05" >0.5</text>
<line x1="42.1" y1="371.4" x2="45.1" y2="371.4" stroke="#111" stroke-width="1.2" />
<text x="39.2" y="374.8" font-size="11.6" text-anchor="end" fill="#231f20" font-weight="normal" stroke="#231f20" stroke-width="0.05" >0.0</text>
<line x1="42.1" y1="396.2" x2="45.1" y2="396.2" stroke="#111" stroke-width="1.2" />
<text x="39.2" y="399.6" font-size="11.6" text-anchor="end" fill="#231f20" font-weight="normal" stroke="#231f20" stroke-width="0.05" >0.5</text>
<line x1="42.1" y1="421" x2="45.1" y2="421" stroke="#111" stroke-width="1.2" />
<text x="39.2" y="424.4" font-size="11.6" text-anchor="end" fill="#231f20" font-weight="normal" stroke="#231f20" stroke-width="0.05" >-1.0</text>
<line x1="45.1" y1="428.5" x2="45.1" y2="431.5" stroke="#111" stroke-width="1.2" />
<text x="45.1" y="443.6" font-size="12" text-anchor="middle" fill="#231f20" font-weight="normal" stroke="#231f20" stroke-width="0.05" >0.0</text>
<line x1="67.92" y1="428.5" x2="67.92" y2="431.5" stroke="#111" stroke-width="1.2" />
<line x1="90.74" y1="428.5" x2="90.74" y2="431.5" stroke="#111" stroke-width="1.2" />
<text x="90.74" y="443.6" font-size="12" text-anchor="middle" fill="#231f20" font-weight="normal" stroke="#231f20" stroke-width="0.05" >0.2</text>
<line x1="113.56" y1="428.5" x2="113.56" y2="431.5" stroke="#111" stroke-width="1.2" />
<line x1="136.38" y1="428.5" x2="136.38" y2="431.5" stroke="#111" stroke-width="1.2" />
<text x="136.38" y="443.6" font-size="12" text-anchor="middle" fill="#231f20" font-weight="normal" stroke="#231f20" stroke-width="0.05" >0.4</text>
<line x1="159.2" y1="428.5" x2="159.2" y2="431.5" stroke="#111" stroke-width="1.2" />
<line x1="182.02" y1="428.5" x2="182.02" y2="431.5" stroke="#111" stroke-width="1.2" />
<text x="182.02" y="443.6" font-size="12" text-anchor="middle" fill="#231f20" font-weight="normal" stroke="#231f20" stroke-width="0.05" >0.6</text>
<line x1="204.84" y1="428.5" x2="204.84" y2="431.5" stroke="#111" stroke-width="1.2" />
<text x="122.8" y="454.6" font-size="12" text-anchor="middle" fill="#231f20" font-weight="normal" stroke="#231f20" stroke-width="0.05" >Power density (mW µm<tspan font-size="6.5" dy="-4.5">-2</tspan><tspan dy="4.5">)</tspan></text>
<text x="13.9" y="373.2" font-size="12" text-anchor="middle" fill="#231f20" font-weight="normal" stroke="#231f20" stroke-width="0.05" transform="rotate(-90 13.9 373.2)">Peak 2P Photocurrent (norm.)</text>
<line x1="45.1" y1="371.4" x2="206" y2="371.4" stroke="#111" stroke-width="1.8" stroke-dasharray="6.6 6.8" stroke-dashoffset="3.5"/>
<line x1="52.1" y1="315.8" x2="70.2" y2="315.8" stroke="#f9a3a6" stroke-width="2.0" />
<line x1="52.1" y1="327.9" x2="70.2" y2="327.9" stroke="#bd2026" stroke-width="2.0" />
<text x="119.5" y="319.6" font-size="12" text-anchor="end" fill="#231f20" font-weight="normal" stroke="#231f20" stroke-width="0.05" >920 nm</text>
<text x="119.5" y="331.5" font-size="12" text-anchor="end" fill="#231f20" font-weight="normal" stroke="#231f20" stroke-width="0.05" >1100 nm</text>
<path d="M45.1 371.4 L45.85 370.88 L46.87 370.16 L48.08 369.31 L49.44 368.39 L50.9 367.47 L52.4 366.6 L53.95 365.78 L55.59 364.94 L57.32 364.11 L59.16 363.27 L61.08 362.43 L63.1 361.6 L65.26 360.77 L67.56 359.94 L69.96 359.11 L72.4 358.29 L74.83 357.48 L77.2 356.7 L79.4 355.98 L81.46 355.33 L83.51 354.69 L85.67 354.03 L88.09 353.28 L90.9 352.4 L94.17 351.38 L97.81 350.24 L101.71 349.02 L105.74 347.76 L109.78 346.47 L113.7 345.2 L117.53 343.92 L121.38 342.6 L125.23 341.26 L129.09 339.92 L132.95 338.6 L136.8 337.3 L140.65 336.02 L144.51 334.73 L148.37 333.46 L152.22 332.21 L156.07 331.02 L159.9 329.9 L163.77 328.83 L167.68 327.79 L171.58 326.79 L175.42 325.87 L179.15 325.03 L182.7 324.3 L186.26 323.68 L189.9 323.14 L193.42 322.7 L196.63 322.33 L199.32 322.04 L201.3 321.8" fill="none" stroke="#f9a3a6" stroke-width="1.8" stroke-linejoin="round" stroke-linecap="butt" />
<circle cx="63.4" cy="353.2" r="2.6" fill="#f9a3a6" stroke="#111" stroke-width="1.2"/>
<circle cx="63.4" cy="357.8" r="2.6" fill="#f9a3a6" stroke="#111" stroke-width="1.2"/>
<circle cx="91" cy="346.6" r="2.6" fill="#f9a3a6" stroke="#111" stroke-width="1.2"/>
<circle cx="91" cy="352.9" r="2.6" fill="#f9a3a6" stroke="#111" stroke-width="1.2"/>
<circle cx="91" cy="357.8" r="2.6" fill="#f9a3a6" stroke="#111" stroke-width="1.2"/>
<circle cx="113.3" cy="346.4" r="2.6" fill="#f9a3a6" stroke="#111" stroke-width="1.2"/>
<circle cx="113.3" cy="351.8" r="2.6" fill="#f9a3a6" stroke="#111" stroke-width="1.2"/>
<circle cx="117" cy="340.6" r="2.6" fill="#f9a3a6" stroke="#111" stroke-width="1.2"/>
<circle cx="117" cy="341.6" r="2.6" fill="#f9a3a6" stroke="#111" stroke-width="1.2"/>
<circle cx="136.8" cy="327.9" r="2.6" fill="#f9a3a6" stroke="#111" stroke-width="1.2"/>
<circle cx="136.8" cy="343.4" r="2.6" fill="#f9a3a6" stroke="#111" stroke-width="1.2"/>
<circle cx="159.7" cy="321.7" r="2.6" fill="#f9a3a6" stroke="#111" stroke-width="1.2"/>
<circle cx="159.7" cy="334.2" r="2.6" fill="#f9a3a6" stroke="#111" stroke-width="1.2"/>
<circle cx="173.2" cy="330" r="2.6" fill="#f9a3a6" stroke="#111" stroke-width="1.2"/>
<circle cx="173.2" cy="335.7" r="2.6" fill="#f9a3a6" stroke="#111" stroke-width="1.2"/>
<circle cx="182.4" cy="314.2" r="2.6" fill="#f9a3a6" stroke="#111" stroke-width="1.2"/>
<circle cx="182.4" cy="315.6" r="2.6" fill="#f9a3a6" stroke="#111" stroke-width="1.2"/>
<circle cx="182.4" cy="324.4" r="2.6" fill="#f9a3a6" stroke="#111" stroke-width="1.2"/>
<line x1="63.3" y1="357.2" x2="63.3" y2="364.9" stroke="#000" stroke-width="1.3" />
<line x1="61" y1="357.2" x2="65.6" y2="357.2" stroke="#000" stroke-width="1.3" />
<line x1="61" y1="364.9" x2="65.6" y2="364.9" stroke="#000" stroke-width="1.3" />
<circle cx="63.3" cy="361" r="1.9" fill="#000" stroke="none" stroke-width="0"/>
<line x1="90.8" y1="346.2" x2="90.8" y2="354" stroke="#000" stroke-width="1.3" />
<line x1="88.5" y1="346.2" x2="93.1" y2="346.2" stroke="#000" stroke-width="1.3" />
<line x1="88.5" y1="354" x2="93.1" y2="354" stroke="#000" stroke-width="1.3" />
<circle cx="90.8" cy="350.6" r="1.9" fill="#000" stroke="none" stroke-width="0"/>
<line x1="117.5" y1="340" x2="117.5" y2="347.2" stroke="#000" stroke-width="1.3" />
<line x1="115.2" y1="340" x2="119.8" y2="340" stroke="#000" stroke-width="1.3" />
<line x1="115.2" y1="347.2" x2="119.8" y2="347.2" stroke="#000" stroke-width="1.3" />
<circle cx="117.5" cy="343.5" r="1.9" fill="#000" stroke="none" stroke-width="0"/>
<line x1="146" y1="330.5" x2="146" y2="339.4" stroke="#000" stroke-width="1.3" />
<line x1="143.7" y1="330.5" x2="148.3" y2="330.5" stroke="#000" stroke-width="1.3" />
<line x1="143.7" y1="339.4" x2="148.3" y2="339.4" stroke="#000" stroke-width="1.3" />
<circle cx="146" cy="334.8" r="1.9" fill="#000" stroke="none" stroke-width="0"/>
<line x1="173.2" y1="319.7" x2="173.2" y2="332.2" stroke="#000" stroke-width="1.3" />
<line x1="170.9" y1="319.7" x2="175.5" y2="319.7" stroke="#000" stroke-width="1.3" />
<line x1="170.9" y1="332.2" x2="175.5" y2="332.2" stroke="#000" stroke-width="1.3" />
<circle cx="173.2" cy="325.9" r="1.9" fill="#000" stroke="none" stroke-width="0"/>
<line x1="201.1" y1="314.8" x2="201.1" y2="329.2" stroke="#000" stroke-width="1.3" />
<line x1="198.8" y1="314.8" x2="203.4" y2="314.8" stroke="#000" stroke-width="1.3" />
<line x1="198.8" y1="329.2" x2="203.4" y2="329.2" stroke="#000" stroke-width="1.3" />
<circle cx="201.1" cy="322.1" r="1.9" fill="#000" stroke="none" stroke-width="0"/>
<path d="M45.1 371.3 L45.62 372.24 L46.36 373.59 L47.2 375.09 L48 376.5 L48.74 377.78 L49.49 379.04 L50.25 380.29 L51 381.5 L51.76 382.69 L52.54 383.86 L53.29 384.97 L54 386 L54.62 386.87 L55.18 387.62 L55.75 388.39 L56.4 389.3 L57.14 390.4 L57.93 391.63 L58.78 392.91 L59.7 394.2 L60.71 395.53 L61.81 396.91 L62.92 398.26 L64 399.5 L65.02 400.61 L66.02 401.64 L67.01 402.59 L68 403.5 L69.01 404.37 L70.03 405.18 L71.04 405.93 L72 406.6 L72.89 407.15 L73.72 407.61 L74.57 408.04 L75.5 408.5 L76.54 409.02 L77.66 409.55 L78.82 410.08 L80 410.6 L81.17 411.08 L82.35 411.54 L83.6 412 L85 412.5 L86.63 413.07 L88.44 413.68 L90.26 414.27 L91.9 414.8 L93.29 415.24 L94.54 415.62 L95.75 415.96 L97 416.3 L98.28 416.62 L99.54 416.91 L100.89 417.2 L102.4 417.5 L104.09 417.82 L105.91 418.16 L107.88 418.49 L110 418.8 L112.21 419.08 L114.54 419.33 L117.09 419.57 L120 419.8 L123.4 420.02 L127.19 420.24 L131.13 420.43 L135 420.6 L138.59 420.73 L142.06 420.83 L145.76 420.92 L150 421 L155.52 421.09 L161.94 421.18 L167.88 421.25 L172 421.3" fill="none" stroke="#c1272d" stroke-width="1.9" stroke-linejoin="round" stroke-linecap="butt" />
<circle cx="56.4" cy="388.9" r="2.6" fill="#c1272d" stroke="#111" stroke-width="1.2"/>
<circle cx="58.4" cy="396.1" r="2.6" fill="#c1272d" stroke="#111" stroke-width="1.2"/>
<circle cx="58.8" cy="404.4" r="2.6" fill="#c1272d" stroke="#111" stroke-width="1.2"/>
<circle cx="74.8" cy="405.1" r="2.6" fill="#c1272d" stroke="#111" stroke-width="1.2"/>
<circle cx="74.8" cy="410.3" r="2.6" fill="#c1272d" stroke="#111" stroke-width="1.2"/>
<circle cx="79.4" cy="407.7" r="2.6" fill="#c1272d" stroke="#111" stroke-width="1.2"/>
<circle cx="74.8" cy="419.5" r="2.6" fill="#c1272d" stroke="#111" stroke-width="1.2"/>
<circle cx="91" cy="414.7" r="2.6" fill="#c1272d" stroke="#111" stroke-width="1.2"/>
<circle cx="91" cy="422.8" r="2.6" fill="#c1272d" stroke="#111" stroke-width="1.2"/>
<circle cx="102.4" cy="417.2" r="2.6" fill="#c1272d" stroke="#111" stroke-width="1.2"/>
<circle cx="120.2" cy="420" r="2.6" fill="#c1272d" stroke="#111" stroke-width="1.2"/>
<circle cx="124" cy="418.9" r="2.6" fill="#c1272d" stroke="#111" stroke-width="1.2"/>
<circle cx="127.6" cy="414.7" r="2.6" fill="#c1272d" stroke="#111" stroke-width="1.2"/>
<circle cx="127.6" cy="418.9" r="2.6" fill="#c1272d" stroke="#111" stroke-width="1.2"/>
<circle cx="127.6" cy="422.8" r="2.6" fill="#c1272d" stroke="#111" stroke-width="1.2"/>
<circle cx="129.9" cy="421.5" r="2.6" fill="#c1272d" stroke="#111" stroke-width="1.2"/>
<circle cx="152.6" cy="418.9" r="2.6" fill="#c1272d" stroke="#111" stroke-width="1.2"/>
<circle cx="152.6" cy="421.2" r="2.6" fill="#c1272d" stroke="#111" stroke-width="1.2"/>
<circle cx="159.4" cy="421.8" r="2.6" fill="#c1272d" stroke="#111" stroke-width="1.2"/>
<circle cx="166.3" cy="421.1" r="2.6" fill="#c1272d" stroke="#111" stroke-width="1.2"/>
<circle cx="171.2" cy="421.5" r="2.6" fill="#c1272d" stroke="#111" stroke-width="1.2"/>
<line x1="59.7" y1="389.3" x2="59.7" y2="402.5" stroke="#000" stroke-width="1.3" />
<line x1="57.4" y1="389.3" x2="62" y2="389.3" stroke="#000" stroke-width="1.3" />
<line x1="57.4" y1="402.5" x2="62" y2="402.5" stroke="#000" stroke-width="1.3" />
<circle cx="59.7" cy="395.6" r="1.9" fill="#000" stroke="none" stroke-width="0"/>
<line x1="75.5" y1="401.1" x2="75.5" y2="414.9" stroke="#000" stroke-width="1.3" />
<line x1="73.2" y1="401.1" x2="77.8" y2="401.1" stroke="#000" stroke-width="1.3" />
<line x1="73.2" y1="414.9" x2="77.8" y2="414.9" stroke="#000" stroke-width="1.3" />
<circle cx="75.5" cy="407.7" r="1.9" fill="#000" stroke="none" stroke-width="0"/>
<line x1="91.9" y1="411" x2="91.9" y2="418.9" stroke="#000" stroke-width="1.3" />
<line x1="89.6" y1="411" x2="94.2" y2="411" stroke="#000" stroke-width="1.3" />
<line x1="89.6" y1="418.9" x2="94.2" y2="418.9" stroke="#000" stroke-width="1.3" />
<circle cx="91.9" cy="414.7" r="1.9" fill="#000" stroke="none" stroke-width="0"/>
<line x1="107.9" y1="415.6" x2="107.9" y2="420.4" stroke="#000" stroke-width="1.3" />
<line x1="105.6" y1="415.6" x2="110.2" y2="415.6" stroke="#000" stroke-width="1.3" />
<line x1="105.6" y1="420.4" x2="110.2" y2="420.4" stroke="#000" stroke-width="1.3" />
<circle cx="107.9" cy="418" r="1.9" fill="#000" stroke="none" stroke-width="0"/>
<line x1="124.1" y1="417" x2="124.1" y2="421" stroke="#000" stroke-width="1.3" />
<line x1="121.8" y1="417" x2="126.4" y2="417" stroke="#000" stroke-width="1.3" />
<line x1="121.8" y1="421" x2="126.4" y2="421" stroke="#000" stroke-width="1.3" />
<circle cx="124.1" cy="418.9" r="1.9" fill="#000" stroke="none" stroke-width="0"/>
<line x1="140" y1="419.2" x2="140" y2="421.8" stroke="#000" stroke-width="1.3" />
<line x1="137.7" y1="419.2" x2="142.3" y2="419.2" stroke="#000" stroke-width="1.3" />
<line x1="137.7" y1="421.8" x2="142.3" y2="421.8" stroke="#000" stroke-width="1.3" />
<circle cx="140" cy="420.5" r="1.9" fill="#000" stroke="none" stroke-width="0"/>
<line x1="155.7" y1="420.2" x2="155.7" y2="422.2" stroke="#000" stroke-width="1.3" />
<line x1="153.4" y1="420.2" x2="158" y2="420.2" stroke="#000" stroke-width="1.3" />
<line x1="153.4" y1="422.2" x2="158" y2="422.2" stroke="#000" stroke-width="1.3" />
<circle cx="155.7" cy="421.2" r="1.9" fill="#000" stroke="none" stroke-width="0"/>
<text x="223" y="287.6" font-size="24" text-anchor="start" fill="#111" font-weight="bold" >d</text>
<line x1="270.3" y1="308.6" x2="270.3" y2="428.5" stroke="#111" stroke-width="1.3" />
<line x1="269.7" y1="427.9" x2="405.8" y2="427.9" stroke="#111" stroke-width="1.3" />
<line x1="267.3" y1="405.27" x2="270.3" y2="405.27" stroke="#111" stroke-width="1.2" />
<text x="264.7" y="408.57" font-size="12" text-anchor="end" fill="#231f20" font-weight="normal" stroke="#231f20" stroke-width="0.05" >20</text>
<line x1="267.3" y1="382.64" x2="270.3" y2="382.64" stroke="#111" stroke-width="1.2" />
<text x="264.7" y="385.94" font-size="12" text-anchor="end" fill="#231f20" font-weight="normal" stroke="#231f20" stroke-width="0.05" >40</text>
<line x1="267.3" y1="360.01" x2="270.3" y2="360.01" stroke="#111" stroke-width="1.2" />
<text x="264.7" y="363.31" font-size="12" text-anchor="end" fill="#231f20" font-weight="normal" stroke="#231f20" stroke-width="0.05" >60</text>
<line x1="267.3" y1="337.38" x2="270.3" y2="337.38" stroke="#111" stroke-width="1.2" />
<text x="264.7" y="340.68" font-size="12" text-anchor="end" fill="#231f20" font-weight="normal" stroke="#231f20" stroke-width="0.05" >80</text>
<line x1="267.3" y1="314.75" x2="270.3" y2="314.75" stroke="#111" stroke-width="1.2" />
<text x="264.7" y="318.05" font-size="12" text-anchor="end" fill="#231f20" font-weight="normal" stroke="#231f20" stroke-width="0.05" >100</text>
<line x1="270.3" y1="427.9" x2="270.3" y2="430.9" stroke="#111" stroke-width="1.2" />
<text x="271.2" y="442.2" font-size="12" text-anchor="middle" fill="#231f20" font-weight="normal" stroke="#231f20" stroke-width="0.05" >0.0</text>
<line x1="299.22" y1="427.9" x2="299.22" y2="430.9" stroke="#111" stroke-width="1.2" />
<line x1="328.14" y1="427.9" x2="328.14" y2="430.9" stroke="#111" stroke-width="1.2" />
<text x="329.04" y="442.2" font-size="12" text-anchor="middle" fill="#231f20" font-weight="normal" stroke="#231f20" stroke-width="0.05" >0.4</text>
<line x1="357.06" y1="427.9" x2="357.06" y2="430.9" stroke="#111" stroke-width="1.2" />
<line x1="385.98" y1="427.9" x2="385.98" y2="430.9" stroke="#111" stroke-width="1.2" />
<text x="386.88" y="442.2" font-size="12" text-anchor="middle" fill="#231f20" font-weight="normal" stroke="#231f20" stroke-width="0.05" >0.8</text>
<text x="338.7" y="455.1" font-size="12" text-anchor="middle" fill="#231f20" font-weight="normal" stroke="#231f20" stroke-width="0.05" >Power density (mW µm<tspan font-size="6.5" dy="-4.5">-2</tspan><tspan dy="4.5">)</tspan></text>
<text x="240.3" y="365.1" font-size="12" text-anchor="middle" fill="#231f20" font-weight="normal" stroke="#231f20" stroke-width="0.05" transform="rotate(-90 240.3 365.1)">AP Probability (%)</text>
<path d="M270.3 423.37 L270.88 423.37 L271.46 423.37 L272.04 423.37 L272.61 423.37 L273.19 423.37 L273.77 423.37 L274.35 423.37 L274.93 423.37 L275.51 423.37 L276.08 423.37 L276.66 423.37 L277.24 423.37 L277.82 423.37 L278.4 423.37 L278.98 423.37 L279.55 423.37 L280.13 423.37 L280.71 423.37 L281.29 423.37 L281.87 423.37 L282.45 423.37 L283.02 423.37 L283.6 423.37 L284.18 423.37 L284.76 423.37 L285.34 423.37 L285.92 423.37 L286.5 423.37 L287.07 423.37 L287.65 423.37 L288.23 423.37 L288.81 423.37 L289.39 423.37 L289.97 423.37 L290.54 423.37 L291.12 423.37 L291.7 423.37 L292.28 423.37 L292.86 423.37 L293.44 423.37 L294.01 423.37 L294.59 423.36 L295.17 423.35 L295.75 423.34 L296.33 423.32 L296.91 423.28 L297.48 423.23 L298.06 423.14 L298.64 423.01 L299.22 422.81 L299.8 422.5 L300.38 422.04 L300.96 421.35 L301.53 420.35 L302.11 418.91 L302.69 416.87 L303.27 414.04 L303.85 410.21 L304.43 405.2 L305 398.88 L305.58 391.28 L306.16 382.6 L306.74 373.26 L307.32 363.77 L307.9 354.7 L308.47 346.49 L309.05 339.41 L309.63 333.54 L310.21 328.82 L310.79 325.13 L311.37 322.29 L311.94 320.13 L312.52 318.5 L313.1 317.28 L313.68 316.37 L314.26 315.69 L314.84 315.18 L315.42 314.8 L315.99 314.51 L316.57 314.3 L317.15 314.13 L317.73 314.01 L318.31 313.92 L318.89 313.85 L319.46 313.8 L320.04 313.76 L320.62 313.73 L321.2 313.7 L321.78 313.68 L322.36 313.67 L322.93 313.66 L323.51 313.65 L324.09 313.64 L324.67 313.64 L325.25 313.63 L325.83 313.63 L326.4 313.63 L326.98 313.63 L327.56 313.62 L328.14 313.62 L328.72 313.62 L329.3 313.62 L329.88 313.62 L330.45 313.62 L331.03 313.62 L331.61 313.62 L332.19 313.62 L332.77 313.62 L333.35 313.62 L333.92 313.62 L334.5 313.62 L335.08 313.62 L335.66 313.62 L336.24 313.62 L336.82 313.62 L337.39 313.62 L337.97 313.62 L338.55 313.62 L339.13 313.62 L339.71 313.62 L340.29 313.62 L340.86 313.62 L341.44 313.62 L342.02 313.62 L342.6 313.62 L343.18 313.62 L343.76 313.62 L344.34 313.62 L344.91 313.62 L345.49 313.62 L346.07 313.62 L346.65 313.62 L347.23 313.62 L347.81 313.62 L348.38 313.62 L348.96 313.62 L349.54 313.62 L350.12 313.62 L350.7 313.62 L351.28 313.62 L351.85 313.62 L352.43 313.62 L353.01 313.62 L353.59 313.62 L354.17 313.62 L354.75 313.62 L355.32 313.62 L355.9 313.62 L356.48 313.62 L357.06 313.62 L357.64 313.62 L358.22 313.62 L358.8 313.62 L359.37 313.62 L359.95 313.62 L360.53 313.62 L361.11 313.62 L361.69 313.62 L362.27 313.62 L362.84 313.62 L363.42 313.62 L364 313.62 L364.58 313.62 L365.16 313.62 L365.74 313.62 L366.31 313.62 L366.89 313.62 L367.47 313.62 L368.05 313.62 L368.63 313.62 L369.21 313.62 L369.78 313.62 L370.36 313.62 L370.94 313.62 L371.52 313.62 L372.1 313.62 L372.68 313.62 L373.26 313.62 L373.83 313.62 L374.41 313.62 L374.99 313.62 L375.57 313.62 L376.15 313.62 L376.73 313.62 L377.3 313.62 L377.88 313.62 L378.46 313.62 L379.04 313.62 L379.62 313.62 L380.2 313.62 L380.77 313.62 L381.35 313.62 L381.93 313.62 L382.51 313.62 L383.09 313.62 L383.67 313.62 L384.24 313.62 L384.82 313.62 L385.4 313.62 L385.98 313.62 L386.56 313.62 L387.14 313.62 L387.72 313.62 L388.29 313.62 L388.87 313.62 L389.45 313.62 L390.03 313.62 L390.61 313.62 L391.19 313.62 L391.76 313.62 L392.34 313.62 L392.92 313.62 L393.5 313.62 L394.08 313.62 L394.66 313.62 L395.23 313.62 L395.81 313.62 L396.39 313.62 L396.97 313.62 L397.55 313.62 L398.13 313.62 L398.7 313.62 L399.28 313.62 L399.86 313.62 L400.44 313.62 L401.02 313.62 L401.6 313.62 L402.18 313.62 L402.75 313.62 L403.33 313.62 L403.91 313.62 L404.49 313.62 L405.07 313.62 L405.65 313.62" fill="none" stroke="#e2e2e2" stroke-width="1.4" stroke-linejoin="round" stroke-linecap="butt" />
<path d="M270.3 427.9 L270.88 427.9 L271.46 427.9 L272.04 427.9 L272.61 427.9 L273.19 427.9 L273.77 427.9 L274.35 427.9 L274.93 427.9 L275.51 427.89 L276.08 427.89 L276.66 427.88 L277.24 427.87 L277.82 427.86 L278.4 427.84 L278.98 427.82 L279.55 427.78 L280.13 427.74 L280.71 427.69 L281.29 427.62 L281.87 427.54 L282.45 427.44 L283.02 427.31 L283.6 427.16 L284.18 426.99 L284.76 426.78 L285.34 426.53 L285.92 426.24 L286.5 425.91 L287.07 425.53 L287.65 425.09 L288.23 424.6 L288.81 424.04 L289.39 423.41 L289.97 422.7 L290.54 421.91 L291.12 421.04 L291.7 420.09 L292.28 419.03 L292.86 417.89 L293.44 416.64 L294.01 415.3 L294.59 413.85 L295.17 412.3 L295.75 410.65 L296.33 408.9 L296.91 407.05 L297.48 405.11 L298.06 403.08 L298.64 400.97 L299.22 398.79 L299.8 396.54 L300.38 394.22 L300.96 391.86 L301.53 389.46 L302.11 387.02 L302.69 384.57 L303.27 382.1 L303.85 379.62 L304.43 377.16 L305 374.71 L305.58 372.29 L306.16 369.9 L306.74 367.54 L307.32 365.24 L307.9 362.98 L308.47 360.78 L309.05 358.64 L309.63 356.57 L310.21 354.56 L310.79 352.61 L311.37 350.74 L311.94 348.94 L312.52 347.21 L313.1 345.55 L313.68 343.96 L314.26 342.43 L314.84 340.98 L315.42 339.59 L315.99 338.27 L316.57 337.01 L317.15 335.8 L317.73 334.66 L318.31 333.58 L318.89 332.54 L319.46 331.56 L320.04 330.63 L320.62 329.75 L321.2 328.91 L321.78 328.12 L322.36 327.36 L322.93 326.65 L323.51 325.97 L324.09 325.33 L324.67 324.72 L325.25 324.14 L325.83 323.59 L326.4 323.07 L326.98 322.58 L327.56 322.11 L328.14 321.67 L328.72 321.25 L329.3 320.85 L329.88 320.47 L330.45 320.12 L331.03 319.77 L331.61 319.45 L332.19 319.14 L332.77 318.85 L333.35 318.58 L333.92 318.31 L334.5 318.06 L335.08 317.83 L335.66 317.6 L336.24 317.38 L336.82 317.18 L337.39 316.98 L337.97 316.8 L338.55 316.62 L339.13 316.45 L339.71 316.29 L340.29 316.14 L340.86 316 L341.44 315.86 L342.02 315.72 L342.6 315.6 L343.18 315.48 L343.76 315.36 L344.34 315.25 L344.91 315.15 L345.49 315.05 L346.07 314.95 L346.65 314.86 L347.23 314.77 L347.81 314.69 L348.38 314.61 L348.96 314.53 L349.54 314.46 L350.12 314.39 L350.7 314.32 L351.28 314.25 L351.85 314.19 L352.43 314.13 L353.01 314.07 L353.59 314.02 L354.17 313.97 L354.75 313.92 L355.32 313.87 L355.9 313.82 L356.48 313.78 L357.06 313.73 L357.64 313.69 L358.22 313.65 L358.8 313.62 L359.37 313.58 L359.95 313.54 L360.53 313.51 L361.11 313.48 L361.69 313.45 L362.27 313.42 L362.84 313.39 L363.42 313.36 L364 313.33 L364.58 313.31 L365.16 313.28 L365.74 313.26 L366.31 313.23 L366.89 313.21 L367.47 313.19 L368.05 313.17 L368.63 313.15 L369.21 313.13 L369.78 313.11 L370.36 313.09 L370.94 313.08 L371.52 313.06 L372.1 313.04 L372.68 313.03 L373.26 313.01 L373.83 313 L374.41 312.98 L374.99 312.97 L375.57 312.96 L376.15 312.94 L376.73 312.93 L377.3 312.92 L377.88 312.91 L378.46 312.9 L379.04 312.88 L379.62 312.87 L380.2 312.86 L380.77 312.85 L381.35 312.84 L381.93 312.83 L382.51 312.83 L383.09 312.82 L383.67 312.81 L384.24 312.8 L384.82 312.79 L385.4 312.78 L385.98 312.78 L386.56 312.77 L387.14 312.76 L387.72 312.76 L388.29 312.75 L388.87 312.74 L389.45 312.74 L390.03 312.73 L390.61 312.72 L391.19 312.72 L391.76 312.71 L392.34 312.71 L392.92 312.7 L393.5 312.7 L394.08 312.69 L394.66 312.69 L395.23 312.68 L395.81 312.68 L396.39 312.67 L396.97 312.67 L397.55 312.67 L398.13 312.66 L398.7 312.66 L399.28 312.65 L399.86 312.65 L400.44 312.65 L401.02 312.64 L401.6 312.64 L402.18 312.64 L402.75 312.63 L403.33 312.63 L403.91 312.63 L404.49 312.62 L405.07 312.62 L405.65 312.62" fill="none" stroke="#e2e2e2" stroke-width="1.4" stroke-linejoin="round" stroke-linecap="butt" />
<path d="M270.3 427.9 L270.88 427.9 L271.46 427.9 L272.04 427.9 L272.61 427.9 L273.19 427.9 L273.77 427.9 L274.35 427.9 L274.93 427.9 L275.51 427.9 L276.08 427.9 L276.66 427.9 L277.24 427.9 L277.82 427.9 L278.4 427.9 L278.98 427.9 L279.55 427.9 L280.13 427.9 L280.71 427.9 L281.29 427.9 L281.87 427.9 L282.45 427.9 L283.02 427.89 L283.6 427.89 L284.18 427.89 L284.76 427.89 L285.34 427.88 L285.92 427.88 L286.5 427.87 L287.07 427.86 L287.65 427.85 L288.23 427.84 L288.81 427.83 L289.39 427.81 L289.97 427.79 L290.54 427.76 L291.12 427.74 L291.7 427.7 L292.28 427.67 L292.86 427.62 L293.44 427.57 L294.01 427.52 L294.59 427.45 L295.17 427.38 L295.75 427.29 L296.33 427.19 L296.91 427.08 L297.48 426.96 L298.06 426.82 L298.64 426.67 L299.22 426.49 L299.8 426.3 L300.38 426.08 L300.96 425.84 L301.53 425.58 L302.11 425.29 L302.69 424.97 L303.27 424.61 L303.85 424.23 L304.43 423.8 L305 423.34 L305.58 422.84 L306.16 422.29 L306.74 421.7 L307.32 421.07 L307.9 420.38 L308.47 419.64 L309.05 418.85 L309.63 418 L310.21 417.09 L310.79 416.13 L311.37 415.1 L311.94 414.02 L312.52 412.87 L313.1 411.66 L313.68 410.39 L314.26 409.05 L314.84 407.66 L315.42 406.21 L315.99 404.69 L316.57 403.12 L317.15 401.5 L317.73 399.83 L318.31 398.1 L318.89 396.34 L319.46 394.53 L320.04 392.68 L320.62 390.81 L321.2 388.9 L321.78 386.98 L322.36 385.03 L322.93 383.07 L323.51 381.11 L324.09 379.14 L324.67 377.17 L325.25 375.21 L325.83 373.26 L326.4 371.32 L326.98 369.41 L327.56 367.52 L328.14 365.66 L328.72 363.83 L329.3 362.03 L329.88 360.26 L330.45 358.54 L331.03 356.86 L331.61 355.22 L332.19 353.62 L332.77 352.07 L333.35 350.56 L333.92 349.11 L334.5 347.69 L335.08 346.33 L335.66 345.01 L336.24 343.74 L336.82 342.51 L337.39 341.33 L337.97 340.2 L338.55 339.11 L339.13 338.06 L339.71 337.05 L340.29 336.09 L340.86 335.17 L341.44 334.28 L342.02 333.43 L342.6 332.62 L343.18 331.84 L343.76 331.1 L344.34 330.39 L344.91 329.71 L345.49 329.06 L346.07 328.44 L346.65 327.85 L347.23 327.28 L347.81 326.74 L348.38 326.22 L348.96 325.73 L349.54 325.26 L350.12 324.81 L350.7 324.38 L351.28 323.98 L351.85 323.58 L352.43 323.21 L353.01 322.86 L353.59 322.52 L354.17 322.19 L354.75 321.88 L355.32 321.59 L355.9 321.31 L356.48 321.04 L357.06 320.78 L357.64 320.54 L358.22 320.3 L358.8 320.08 L359.37 319.86 L359.95 319.66 L360.53 319.46 L361.11 319.28 L361.69 319.1 L362.27 318.93 L362.84 318.76 L363.42 318.61 L364 318.46 L364.58 318.31 L365.16 318.18 L365.74 318.05 L366.31 317.92 L366.89 317.8 L367.47 317.69 L368.05 317.58 L368.63 317.47 L369.21 317.37 L369.78 317.27 L370.36 317.18 L370.94 317.09 L371.52 317.01 L372.1 316.93 L372.68 316.85 L373.26 316.77 L373.83 316.7 L374.41 316.63 L374.99 316.56 L375.57 316.5 L376.15 316.44 L376.73 316.38 L377.3 316.32 L377.88 316.27 L378.46 316.22 L379.04 316.17 L379.62 316.12 L380.2 316.07 L380.77 316.03 L381.35 315.99 L381.93 315.94 L382.51 315.9 L383.09 315.87 L383.67 315.83 L384.24 315.79 L384.82 315.76 L385.4 315.73 L385.98 315.7 L386.56 315.67 L387.14 315.64 L387.72 315.61 L388.29 315.58 L388.87 315.55 L389.45 315.53 L390.03 315.51 L390.61 315.48 L391.19 315.46 L391.76 315.44 L392.34 315.42 L392.92 315.4 L393.5 315.38 L394.08 315.36 L394.66 315.34 L395.23 315.32 L395.81 315.3 L396.39 315.29 L396.97 315.27 L397.55 315.26 L398.13 315.24 L398.7 315.23 L399.28 315.21 L399.86 315.2 L400.44 315.19 L401.02 315.17 L401.6 315.16 L402.18 315.15 L402.75 315.14 L403.33 315.13 L403.91 315.12 L404.49 315.11 L405.07 315.1 L405.65 315.09" fill="none" stroke="#e2e2e2" stroke-width="1.4" stroke-linejoin="round" stroke-linecap="butt" />
<path d="M270.3 426.77 L270.88 426.77 L271.46 426.77 L272.04 426.77 L272.61 426.77 L273.19 426.77 L273.77 426.77 L274.35 426.77 L274.93 426.77 L275.51 426.77 L276.08 426.77 L276.66 426.77 L277.24 426.77 L277.82 426.77 L278.4 426.77 L278.98 426.77 L279.55 426.77 L280.13 426.77 L280.71 426.77 L281.29 426.77 L281.87 426.77 L282.45 426.76 L283.02 426.76 L283.6 426.76 L284.18 426.76 L284.76 426.76 L285.34 426.75 L285.92 426.75 L286.5 426.74 L287.07 426.73 L287.65 426.73 L288.23 426.72 L288.81 426.7 L289.39 426.69 L289.97 426.67 L290.54 426.65 L291.12 426.63 L291.7 426.61 L292.28 426.57 L292.86 426.54 L293.44 426.5 L294.01 426.45 L294.59 426.4 L295.17 426.34 L295.75 426.27 L296.33 426.19 L296.91 426.1 L297.48 426 L298.06 425.89 L298.64 425.76 L299.22 425.62 L299.8 425.47 L300.38 425.29 L300.96 425.1 L301.53 424.89 L302.11 424.66 L302.69 424.4 L303.27 424.12 L303.85 423.81 L304.43 423.47 L305 423.1 L305.58 422.7 L306.16 422.27 L306.74 421.79 L307.32 421.28 L307.9 420.73 L308.47 420.14 L309.05 419.5 L309.63 418.82 L310.21 418.08 L310.79 417.3 L311.37 416.47 L311.94 415.58 L312.52 414.65 L313.1 413.65 L313.68 412.6 L314.26 411.5 L314.84 410.34 L315.42 409.12 L315.99 407.84 L316.57 406.51 L317.15 405.13 L317.73 403.69 L318.31 402.2 L318.89 400.67 L319.46 399.08 L320.04 397.45 L320.62 395.77 L321.2 394.06 L321.78 392.31 L322.36 390.53 L322.93 388.72 L323.51 386.89 L324.09 385.04 L324.67 383.17 L325.25 381.29 L325.83 379.4 L326.4 377.51 L326.98 375.61 L327.56 373.73 L328.14 371.85 L328.72 369.99 L329.3 368.14 L329.88 366.31 L330.45 364.51 L331.03 362.73 L331.61 360.98 L332.19 359.26 L332.77 357.58 L333.35 355.93 L333.92 354.31 L334.5 352.74 L335.08 351.21 L335.66 349.71 L336.24 348.26 L336.82 346.85 L337.39 345.48 L337.97 344.16 L338.55 342.87 L339.13 341.63 L339.71 340.43 L340.29 339.27 L340.86 338.16 L341.44 337.08 L342.02 336.04 L342.6 335.05 L343.18 334.09 L343.76 333.16 L344.34 332.28 L344.91 331.42 L345.49 330.6 L346.07 329.82 L346.65 329.07 L347.23 328.34 L347.81 327.65 L348.38 326.98 L348.96 326.35 L349.54 325.74 L350.12 325.15 L350.7 324.59 L351.28 324.06 L351.85 323.54 L352.43 323.05 L353.01 322.58 L353.59 322.13 L354.17 321.7 L354.75 321.28 L355.32 320.89 L355.9 320.51 L356.48 320.15 L357.06 319.8 L357.64 319.47 L358.22 319.15 L358.8 318.85 L359.37 318.56 L359.95 318.28 L360.53 318.01 L361.11 317.76 L361.69 317.51 L362.27 317.28 L362.84 317.05 L363.42 316.84 L364 316.63 L364.58 316.43 L365.16 316.24 L365.74 316.06 L366.31 315.89 L366.89 315.72 L367.47 315.56 L368.05 315.41 L368.63 315.26 L369.21 315.12 L369.78 314.98 L370.36 314.85 L370.94 314.73 L371.52 314.61 L372.1 314.49 L372.68 314.38 L373.26 314.28 L373.83 314.17 L374.41 314.08 L374.99 313.98 L375.57 313.89 L376.15 313.8 L376.73 313.72 L377.3 313.64 L377.88 313.56 L378.46 313.49 L379.04 313.42 L379.62 313.35 L380.2 313.28 L380.77 313.22 L381.35 313.16 L381.93 313.1 L382.51 313.04 L383.09 312.99 L383.67 312.94 L384.24 312.88 L384.82 312.84 L385.4 312.79 L385.98 312.74 L386.56 312.7 L387.14 312.66 L387.72 312.62 L388.29 312.58 L388.87 312.54 L389.45 312.5 L390.03 312.47 L390.61 312.43 L391.19 312.4 L391.76 312.37 L392.34 312.34 L392.92 312.31 L393.5 312.28 L394.08 312.25 L394.66 312.23 L395.23 312.2 L395.81 312.18 L396.39 312.15 L396.97 312.13 L397.55 312.11 L398.13 312.08 L398.7 312.06 L399.28 312.04 L399.86 312.02 L400.44 312.01 L401.02 311.99 L401.6 311.97 L402.18 311.95 L402.75 311.94 L403.33 311.92 L403.91 311.9 L404.49 311.89 L405.07 311.87 L405.65 311.86" fill="none" stroke="#e2e2e2" stroke-width="1.4" stroke-linejoin="round" stroke-linecap="butt" />
<path d="M270.3 425.64 L270.88 425.64 L271.46 425.64 L272.04 425.64 L272.61 425.64 L273.19 425.64 L273.77 425.63 L274.35 425.63 L274.93 425.63 L275.51 425.62 L276.08 425.61 L276.66 425.6 L277.24 425.58 L277.82 425.56 L278.4 425.54 L278.98 425.51 L279.55 425.47 L280.13 425.43 L280.71 425.38 L281.29 425.32 L281.87 425.25 L282.45 425.18 L283.02 425.09 L283.6 424.99 L284.18 424.87 L284.76 424.75 L285.34 424.6 L285.92 424.45 L286.5 424.27 L287.07 424.08 L287.65 423.87 L288.23 423.64 L288.81 423.39 L289.39 423.11 L289.97 422.82 L290.54 422.5 L291.12 422.16 L291.7 421.79 L292.28 421.39 L292.86 420.97 L293.44 420.52 L294.01 420.04 L294.59 419.53 L295.17 419 L295.75 418.43 L296.33 417.83 L296.91 417.2 L297.48 416.54 L298.06 415.85 L298.64 415.12 L299.22 414.37 L299.8 413.58 L300.38 412.76 L300.96 411.91 L301.53 411.03 L302.11 410.12 L302.69 409.18 L303.27 408.22 L303.85 407.22 L304.43 406.2 L305 405.15 L305.58 404.07 L306.16 402.97 L306.74 401.85 L307.32 400.71 L307.9 399.54 L308.47 398.36 L309.05 397.16 L309.63 395.94 L310.21 394.71 L310.79 393.47 L311.37 392.21 L311.94 390.95 L312.52 389.67 L313.1 388.39 L313.68 387.11 L314.26 385.82 L314.84 384.53 L315.42 383.24 L315.99 381.95 L316.57 380.66 L317.15 379.37 L317.73 378.09 L318.31 376.82 L318.89 375.55 L319.46 374.29 L320.04 373.04 L320.62 371.8 L321.2 370.58 L321.78 369.36 L322.36 368.16 L322.93 366.98 L323.51 365.8 L324.09 364.65 L324.67 363.51 L325.25 362.38 L325.83 361.27 L326.4 360.19 L326.98 359.11 L327.56 358.06 L328.14 357.02 L328.72 356.01 L329.3 355.01 L329.88 354.03 L330.45 353.07 L331.03 352.13 L331.61 351.2 L332.19 350.3 L332.77 349.42 L333.35 348.55 L333.92 347.7 L334.5 346.87 L335.08 346.06 L335.66 345.27 L336.24 344.5 L336.82 343.74 L337.39 343 L337.97 342.28 L338.55 341.58 L339.13 340.89 L339.71 340.22 L340.29 339.56 L340.86 338.92 L341.44 338.3 L342.02 337.69 L342.6 337.1 L343.18 336.52 L343.76 335.96 L344.34 335.41 L344.91 334.87 L345.49 334.35 L346.07 333.84 L346.65 333.35 L347.23 332.86 L347.81 332.39 L348.38 331.93 L348.96 331.48 L349.54 331.05 L350.12 330.62 L350.7 330.21 L351.28 329.81 L351.85 329.41 L352.43 329.03 L353.01 328.66 L353.59 328.29 L354.17 327.94 L354.75 327.59 L355.32 327.26 L355.9 326.93 L356.48 326.61 L357.06 326.3 L357.64 326 L358.22 325.7 L358.8 325.41 L359.37 325.13 L359.95 324.86 L360.53 324.59 L361.11 324.33 L361.69 324.08 L362.27 323.83 L362.84 323.59 L363.42 323.36 L364 323.13 L364.58 322.9 L365.16 322.69 L365.74 322.47 L366.31 322.27 L366.89 322.06 L367.47 321.87 L368.05 321.67 L368.63 321.49 L369.21 321.3 L369.78 321.13 L370.36 320.95 L370.94 320.78 L371.52 320.62 L372.1 320.45 L372.68 320.3 L373.26 320.14 L373.83 319.99 L374.41 319.84 L374.99 319.7 L375.57 319.56 L376.15 319.42 L376.73 319.29 L377.3 319.16 L377.88 319.03 L378.46 318.91 L379.04 318.79 L379.62 318.67 L380.2 318.55 L380.77 318.44 L381.35 318.33 L381.93 318.22 L382.51 318.11 L383.09 318.01 L383.67 317.91 L384.24 317.81 L384.82 317.71 L385.4 317.62 L385.98 317.53 L386.56 317.43 L387.14 317.35 L387.72 317.26 L388.29 317.18 L388.87 317.09 L389.45 317.01 L390.03 316.93 L390.61 316.85 L391.19 316.78 L391.76 316.7 L392.34 316.63 L392.92 316.56 L393.5 316.49 L394.08 316.42 L394.66 316.36 L395.23 316.29 L395.81 316.23 L396.39 316.16 L396.97 316.1 L397.55 316.04 L398.13 315.98 L398.7 315.93 L399.28 315.87 L399.86 315.81 L400.44 315.76 L401.02 315.71 L401.6 315.65 L402.18 315.6 L402.75 315.55 L403.33 315.5 L403.91 315.46 L404.49 315.41 L405.07 315.36 L405.65 315.32" fill="none" stroke="#e2e2e2" stroke-width="1.4" stroke-linejoin="round" stroke-linecap="butt" />
<line x1="269.7" y1="427.9" x2="405.8" y2="427.9" stroke="#111" stroke-width="1.3" />
<path d="M270.3 428.1 L270.79 428.15 L271.46 428.24 L272.4 428.24 L273.7 428 L275.46 427.5 L277.62 426.81 L279.96 425.94 L282.3 424.9 L284.65 423.67 L287.11 422.24 L289.53 420.69 L291.8 419.1 L293.95 417.38 L296.01 415.54 L297.9 413.75 L299.5 412.2 L300.75 410.97 L301.72 409.95 L302.5 409.05 L303.2 408.2 L303.83 407.33 L304.33 406.5 L304.72 405.8 L305 405.3 L305.6 400.15 L306.2 398.28 L306.8 396.38 L307.4 394.44 L308 392.47 L308.6 390.47 L309.2 388.46 L309.8 386.44 L310.4 384.41 L311 382.39 L311.6 380.36 L312.2 378.35 L312.8 376.35 L313.4 374.37 L314 372.42 L314.6 370.49 L315.2 368.59 L315.8 366.72 L316.4 364.89 L317 363.1 L317.6 361.35 L318.2 359.64 L318.8 357.98 L319.4 356.36 L320 354.78 L320.6 353.25 L321.2 351.77 L321.8 350.33 L322.4 348.94 L323 347.6 L323.6 346.3 L324.2 345.05 L324.8 343.84 L325.4 342.67 L326 341.54 L326.6 340.46 L327.2 339.42 L327.8 338.42 L328.4 337.45 L329 336.52 L329.6 335.63 L330.2 334.78 L330.8 333.95 L331.4 333.16 L332 332.4 L332.6 331.67 L333.2 330.97 L333.8 330.3 L334.4 329.65 L335 329.04 L335.6 328.44 L336.2 327.87 L336.8 327.32 L337.4 326.8 L338 326.29 L338.6 325.81 L339.2 325.34 L339.8 324.9 L340.4 324.47 L341 324.06 L341.6 323.66 L342.2 323.28 L342.8 322.92 L343.4 322.56 L344 322.23 L344.6 321.9 L345.2 321.59 L345.8 321.29 L346.4 321.01 L347 320.73 L347.6 320.46 L348.2 320.21 L348.8 319.96 L349.4 319.73 L350 319.5 L350.6 319.28 L351.2 319.07 L351.8 318.86 L352.4 318.67 L353 318.48 L353.6 318.3 L354.2 318.12 L354.8 317.95 L355.4 317.79 L356 317.63 L356.6 317.48 L357.2 317.34 L357.8 317.2 L358.4 317.06 L359 316.93 L359.6 316.8 L360.2 316.68 L360.8 316.56 L361.4 316.45 L362 316.34 L362.6 316.23 L363.2 316.13 L363.8 316.03 L364.4 315.93 L365 315.84 L365.6 315.75 L366.2 315.66 L366.8 315.58 L367.4 315.5 L368 315.42 L368.6 315.34 L369.2 315.27 L369.8 315.19 L370.4 315.13 L371 315.06 L371.6 314.99 L372.2 314.93 L372.8 314.87 L373.4 314.81 L374 314.75 L374.6 314.7 L375.2 314.64 L375.8 314.59 L376.4 314.54 L377 314.49 L377.6 314.44 L378.2 314.39 L378.8 314.35 L379.4 314.31 L380 314.26 L380.6 314.22 L381.2 314.18 L381.8 314.14 L382.4 314.1 L383 314.07 L383.6 314.03 L384.2 314 L384.8 313.96 L385.4 313.93 L386 313.9 L386.6 313.87 L387.2 313.84 L387.8 313.81 L388.4 313.78 L389 313.75 L389.6 313.72 L390.2 313.7 L390.8 313.67 L391.4 313.65 L392 313.62 L392.6 313.6 L393.2 313.57 L393.8 313.55 L394.4 313.53 L395 313.51 L395.6 313.49 L396.2 313.47 L396.8 313.45 L397.4 313.43 L398 313.41 L398.6 313.39 L399.2 313.37 L399.8 313.35 L400.4 313.34 L401 313.32 L401.6 313.3 L402.2 313.29 L402.8 313.27 L403.4 313.26 L404 313.24 L404.6 313.23 L405.2 313.21 L405.8 313.2" fill="none" stroke="#c1272d" stroke-width="2.0" stroke-linejoin="round" stroke-linecap="butt" />
<circle cx="270.3" cy="427.8" r="2.75" fill="#c1272d" stroke="#111" stroke-width="1.1"/>
<circle cx="287" cy="427.8" r="2.75" fill="#c1272d" stroke="#111" stroke-width="1.1"/>
<circle cx="298.8" cy="427.8" r="2.75" fill="#c1272d" stroke="#111" stroke-width="1.1"/>
<circle cx="298.8" cy="382.6" r="2.75" fill="#c1272d" stroke="#111" stroke-width="1.1"/>
<circle cx="301.8" cy="405.2" r="2.75" fill="#c1272d" stroke="#111" stroke-width="1.1"/>
<circle cx="311.4" cy="405.2" r="2.75" fill="#c1272d" stroke="#111" stroke-width="1.1"/>
<circle cx="310.2" cy="359.8" r="2.75" fill="#c1272d" stroke="#111" stroke-width="1.1"/>
<circle cx="311.4" cy="337.1" r="2.75" fill="#c1272d" stroke="#111" stroke-width="1.1"/>
<circle cx="313.2" cy="382.6" r="2.75" fill="#c1272d" stroke="#111" stroke-width="1.1"/>
<circle cx="319.8" cy="382.6" r="2.75" fill="#c1272d" stroke="#111" stroke-width="1.1"/>
<circle cx="319.8" cy="314.8" r="2.75" fill="#c1272d" stroke="#111" stroke-width="1.1"/>
<circle cx="324.5" cy="314.8" r="2.75" fill="#c1272d" stroke="#111" stroke-width="1.1"/>
<circle cx="324.5" cy="337.1" r="2.75" fill="#c1272d" stroke="#111" stroke-width="1.1"/>
<circle cx="332.6" cy="314.8" r="2.75" fill="#c1272d" stroke="#111" stroke-width="1.1"/>
<circle cx="334.1" cy="359.8" r="2.75" fill="#c1272d" stroke="#111" stroke-width="1.1"/>
<circle cx="345.8" cy="337.1" r="2.75" fill="#c1272d" stroke="#111" stroke-width="1.1"/>
<circle cx="352.7" cy="314.8" r="2.75" fill="#c1272d" stroke="#111" stroke-width="1.1"/>
<circle cx="355.7" cy="314.8" r="2.75" fill="#c1272d" stroke="#111" stroke-width="1.1"/>
<circle cx="368.2" cy="314.8" r="2.75" fill="#c1272d" stroke="#111" stroke-width="1.1"/>
<circle cx="375.7" cy="314.8" r="2.75" fill="#c1272d" stroke="#111" stroke-width="1.1"/>
<circle cx="378.7" cy="314.8" r="2.75" fill="#c1272d" stroke="#111" stroke-width="1.1"/>
<circle cx="391.6" cy="314.8" r="2.75" fill="#c1272d" stroke="#111" stroke-width="1.1"/>
<text x="431" y="287.3" font-size="24" text-anchor="start" fill="#111" font-weight="bold" >e</text>
<line x1="485.5" y1="303.2" x2="485.5" y2="431.2" stroke="#111" stroke-width="1.3" />
<line x1="484.9" y1="430.6" x2="668.6" y2="430.6" stroke="#111" stroke-width="1.5" />
<line x1="482.5" y1="421.3" x2="485.5" y2="421.3" stroke="#111" stroke-width="1.2" />
<text x="482.5" y="425.3" font-size="12" text-anchor="end" fill="#231f20" font-weight="normal" stroke="#231f20" stroke-width="0.05" >0</text>
<line x1="482.5" y1="402.63" x2="485.5" y2="402.63" stroke="#111" stroke-width="1.2" />
<text x="482.5" y="406.63" font-size="12" text-anchor="end" fill="#231f20" font-weight="normal" stroke="#231f20" stroke-width="0.05" >100</text>
<line x1="482.5" y1="383.96" x2="485.5" y2="383.96" stroke="#111" stroke-width="1.2" />
<text x="482.5" y="387.96" font-size="12" text-anchor="end" fill="#231f20" font-weight="normal" stroke="#231f20" stroke-width="0.05" >200</text>
<line x1="482.5" y1="365.29" x2="485.5" y2="365.29" stroke="#111" stroke-width="1.2" />
<text x="482.5" y="369.29" font-size="12" text-anchor="end" fill="#231f20" font-weight="normal" stroke="#231f20" stroke-width="0.05" >300</text>
<line x1="482.5" y1="346.62" x2="485.5" y2="346.62" stroke="#111" stroke-width="1.2" />
<text x="482.5" y="350.62" font-size="12" text-anchor="end" fill="#231f20" font-weight="normal" stroke="#231f20" stroke-width="0.05" >400</text>
<line x1="482.5" y1="327.95" x2="485.5" y2="327.95" stroke="#111" stroke-width="1.2" />
<text x="482.5" y="331.95" font-size="12" text-anchor="end" fill="#231f20" font-weight="normal" stroke="#231f20" stroke-width="0.05" >500</text>
<line x1="482.5" y1="309.28" x2="485.5" y2="309.28" stroke="#111" stroke-width="1.2" />
<text x="482.5" y="313.28" font-size="12" text-anchor="end" fill="#231f20" font-weight="normal" stroke="#231f20" stroke-width="0.05" >600</text>
<line x1="500.7" y1="430.6" x2="500.7" y2="433.6" stroke="#111" stroke-width="1.2" />
<text x="500.7" y="443.8" font-size="12" text-anchor="middle" fill="#231f20" font-weight="normal" stroke="#231f20" stroke-width="0.05" >0.00</text>
<line x1="531.33" y1="430.6" x2="531.33" y2="433.6" stroke="#111" stroke-width="1.2" />
<text x="531.33" y="443.8" font-size="12" text-anchor="middle" fill="#231f20" font-weight="normal" stroke="#231f20" stroke-width="0.05" >0.05</text>
<line x1="561.96" y1="430.6" x2="561.96" y2="433.6" stroke="#111" stroke-width="1.2" />
<text x="561.96" y="443.8" font-size="12" text-anchor="middle" fill="#231f20" font-weight="normal" stroke="#231f20" stroke-width="0.05" >0.10</text>
<line x1="592.59" y1="430.6" x2="592.59" y2="433.6" stroke="#111" stroke-width="1.2" />
<text x="592.59" y="443.8" font-size="12" text-anchor="middle" fill="#231f20" font-weight="normal" stroke="#231f20" stroke-width="0.05" >0.15</text>
<line x1="623.22" y1="430.6" x2="623.22" y2="433.6" stroke="#111" stroke-width="1.2" />
<text x="623.22" y="443.8" font-size="12" text-anchor="middle" fill="#231f20" font-weight="normal" stroke="#231f20" stroke-width="0.05" >0.20</text>
<line x1="653.85" y1="430.6" x2="653.85" y2="433.6" stroke="#111" stroke-width="1.2" />
<text x="653.85" y="443.8" font-size="12" text-anchor="middle" fill="#231f20" font-weight="normal" stroke="#231f20" stroke-width="0.05" >0.25</text>
<text x="576" y="457.2" font-size="12" text-anchor="middle" fill="#231f20" font-weight="normal" stroke="#231f20" stroke-width="0.05" >Power density (mW µm<tspan font-size="6.5" dy="-4.5">-2</tspan><tspan dy="4.5">)</tspan></text>
<text x="454.3" y="365.1" font-size="12" text-anchor="middle" fill="#231f20" font-weight="normal" stroke="#231f20" stroke-width="0.05" transform="rotate(-90 454.3 365.1)">Rheobase shift (pA)</text>
<line x1="494.2" y1="421.3" x2="506.8" y2="421.3" stroke="#111" stroke-width="1.9" />
<circle cx="500.7" cy="421.3" r="2.6" fill="#f4a3a4" stroke="#111" stroke-width="1.1"/>
<rect x="525.2" y="421" width="12.4" height="3.1" fill="#fff" stroke="#111" stroke-width="1.0"/>
<line x1="525.2" y1="422.6" x2="537.6" y2="422.6" stroke="#111" stroke-width="1.0" />
<circle cx="531.4" cy="410" r="2.6" fill="#f4a3a4" stroke="#111" stroke-width="1.1"/>
<circle cx="531.4" cy="421" r="2.6" fill="#f4a3a4" stroke="#111" stroke-width="1.1"/>
<circle cx="531.4" cy="425" r="2.6" fill="#f4a3a4" stroke="#111" stroke-width="1.1"/>
<line x1="562" y1="387.4" x2="562" y2="394.1" stroke="#111" stroke-width="1.6" />
<line x1="562" y1="405.2" x2="562" y2="413.5" stroke="#111" stroke-width="1.6" />
<rect x="555.7" y="394.1" width="12.6" height="11.1" fill="#fff" stroke="#111" stroke-width="1.9"/>
<line x1="555.7" y1="402.9" x2="568.3" y2="402.9" stroke="#111" stroke-width="1.9" />
<circle cx="562" cy="387.4" r="2.6" fill="#f4a3a4" stroke="#111" stroke-width="1.1"/>
<circle cx="562" cy="391.5" r="2.6" fill="#f4a3a4" stroke="#111" stroke-width="1.1"/>
<circle cx="562" cy="401.3" r="2.6" fill="#f4a3a4" stroke="#111" stroke-width="1.1"/>
<circle cx="562" cy="406.4" r="2.6" fill="#f4a3a4" stroke="#111" stroke-width="1.1"/>
<circle cx="562" cy="413.5" r="2.6" fill="#f4a3a4" stroke="#111" stroke-width="1.1"/>
<line x1="592.4" y1="368.6" x2="592.4" y2="385.5" stroke="#111" stroke-width="1.6" />
<line x1="592.4" y1="397.8" x2="592.4" y2="403.3" stroke="#111" stroke-width="1.6" />
<rect x="586.1" y="385.5" width="12.6" height="12.3" fill="#fff" stroke="#111" stroke-width="1.9"/>
<line x1="586.1" y1="392.7" x2="598.7" y2="392.7" stroke="#111" stroke-width="1.9" />
<circle cx="592.4" cy="368.6" r="2.6" fill="#f4a3a4" stroke="#111" stroke-width="1.1"/>
<circle cx="592.4" cy="383.9" r="2.6" fill="#f4a3a4" stroke="#111" stroke-width="1.1"/>
<circle cx="592.4" cy="391" r="2.6" fill="#f4a3a4" stroke="#111" stroke-width="1.1"/>
<circle cx="592.4" cy="394.1" r="2.6" fill="#f4a3a4" stroke="#111" stroke-width="1.1"/>
<circle cx="592.4" cy="399.2" r="2.6" fill="#f4a3a4" stroke="#111" stroke-width="1.1"/>
<circle cx="592.4" cy="403.3" r="2.6" fill="#f4a3a4" stroke="#111" stroke-width="1.1"/>
<line x1="622.7" y1="372.3" x2="622.7" y2="374.3" stroke="#111" stroke-width="1.6" />
<line x1="622.7" y1="387.6" x2="622.7" y2="395.1" stroke="#111" stroke-width="1.6" />
<rect x="616.4" y="374.3" width="12.6" height="13.3" fill="#fff" stroke="#111" stroke-width="1.9"/>
<line x1="616.4" y1="384.3" x2="629" y2="384.3" stroke="#111" stroke-width="1.9" />
<circle cx="622.7" cy="331.4" r="2.6" fill="#f4a3a4" stroke="#111" stroke-width="1.1"/>
<circle cx="622.7" cy="372.3" r="2.6" fill="#f4a3a4" stroke="#111" stroke-width="1.1"/>
<circle cx="622.7" cy="379.8" r="2.6" fill="#f4a3a4" stroke="#111" stroke-width="1.1"/>
<circle cx="622.7" cy="383.9" r="2.6" fill="#f4a3a4" stroke="#111" stroke-width="1.1"/>
<circle cx="622.7" cy="387.6" r="2.6" fill="#f4a3a4" stroke="#111" stroke-width="1.1"/>
<circle cx="622.7" cy="395.1" r="2.6" fill="#f4a3a4" stroke="#111" stroke-width="1.1"/>
<line x1="653.3" y1="353.7" x2="653.3" y2="357.3" stroke="#111" stroke-width="1.6" />
<line x1="653.3" y1="375.3" x2="653.3" y2="387.6" stroke="#111" stroke-width="1.6" />
<rect x="647" y="357.3" width="12.6" height="18" fill="#fff" stroke="#111" stroke-width="1.9"/>
<line x1="647" y1="371.2" x2="659.6" y2="371.2" stroke="#111" stroke-width="1.9" />
<circle cx="653.3" cy="308.9" r="2.6" fill="#f4a3a4" stroke="#111" stroke-width="1.1"/>
<circle cx="653.3" cy="353.7" r="2.6" fill="#f4a3a4" stroke="#111" stroke-width="1.1"/>
<circle cx="653.3" cy="367.6" r="2.6" fill="#f4a3a4" stroke="#111" stroke-width="1.1"/>
<circle cx="653.3" cy="372.7" r="2.6" fill="#f4a3a4" stroke="#111" stroke-width="1.1"/>
<circle cx="653.3" cy="376.7" r="2.6" fill="#f4a3a4" stroke="#111" stroke-width="1.1"/>
<circle cx="653.3" cy="387.6" r="2.6" fill="#f4a3a4" stroke="#111" stroke-width="1.1"/>
<text x="666.4" y="416" font-size="8.5" text-anchor="end" fill="#231f20" font-weight="normal" stroke="#231f20" stroke-width="0.05" >920 nm, 5 ms stim.</text>
<text x="666.4" y="425.6" font-size="8.5" text-anchor="end" fill="#231f20" font-weight="normal" stroke="#231f20" stroke-width="0.05" >V<tspan font-size="5" dy="2.3">hold</tspan><tspan dy="-2.3"> = -60 mV</tspan></text>
<text x="-0.5" y="496.8" font-size="24" text-anchor="start" fill="#111" font-weight="bold" >f</text>
<text x="44.2" y="497" font-size="10.3" text-anchor="start" fill="#231f20" font-weight="normal" stroke="#231f20" stroke-width="0.05" >I<tspan font-size="6.3" dy="2.8">inj.</tspan><tspan dy="-2.8"> = 550 pA (cont.)</tspan></text>
<rect x="43.8" y="504.2" width="231" height="3.7" fill="#000" />
<path d="M21.9 591.1 L44.6 591.1 L45 586 L45.3 582 L45.3 568 L45.6 511.1 L46 568 L46.02 570.69 L46.09 573.25 L46.21 575.54 L46.36 577.46 L46.54 578.9 L46.74 579.8 L46.95 580.1 L47.16 579.8 L47.36 578.9 L47.54 577.46 L47.69 575.54 L47.81 573.25 L47.88 570.69 L47.9 568 L48.2 515.2 L48.6 568 L48.63 570.4 L48.7 572.68 L48.83 574.72 L49 576.43 L49.19 577.71 L49.42 578.51 L49.65 578.78 L49.88 578.51 L50.11 577.71 L50.3 576.43 L50.47 574.72 L50.6 572.68 L50.67 570.4 L50.7 568 L51 517.6 L51.4 568 L51.43 570.2 L51.51 572.29 L51.65 574.17 L51.83 575.74 L52.05 576.92 L52.29 577.65 L52.55 577.9 L52.81 577.65 L53.05 576.92 L53.27 575.74 L53.45 574.17 L53.59 572.29 L53.67 570.2 L53.7 568 L54 519.4 L54.4 568 L54.43 570.07 L54.53 572.04 L54.68 573.8 L54.89 575.27 L55.14 576.38 L55.41 577.07 L55.7 577.3 L55.99 577.07 L56.26 576.38 L56.51 575.27 L56.72 573.8 L56.87 572.04 L56.97 570.07 L57 568 L57.3 520.8 L57.7 568 L57.75 569.89 L57.88 571.68 L58.1 573.29 L58.4 574.63 L58.75 575.64 L59.14 576.27 L59.55 576.48 L59.96 576.27 L60.35 575.64 L60.7 574.63 L61 573.29 L61.22 571.68 L61.35 569.89 L61.4 568 L61.7 521.1 L62.1 568 L62.15 569.89 L62.31 571.69 L62.56 573.3 L62.89 574.65 L63.29 575.66 L63.73 576.29 L64.2 576.5 L64.67 576.29 L65.11 575.66 L65.51 574.65 L65.84 573.3 L66.09 571.69 L66.25 569.89 L66.3 568 L66.6 521.1 L67 568 L67.06 569.9 L67.23 571.7 L67.5 573.31 L67.87 574.66 L68.3 575.68 L68.79 576.31 L69.3 576.52 L69.81 576.31 L70.3 575.68 L70.73 574.66 L71.1 573.31 L71.37 571.7 L71.54 569.9 L71.6 568 L71.9 521.6 L72.3 568 L72.36 569.9 L72.53 571.71 L72.81 573.32 L73.18 574.68 L73.63 575.69 L74.13 576.33 L74.65 576.54 L75.17 576.33 L75.67 575.69 L76.12 574.68 L76.49 573.32 L76.77 571.71 L76.94 569.9 L77 568 L77.3 522.9 L77.7 568 L77.78 569.9 L78.01 571.71 L78.39 573.34 L78.89 574.69 L79.48 575.71 L80.15 576.35 L80.85 576.56 L81.55 576.35 L82.22 575.71 L82.81 574.69 L83.31 573.34 L83.69 571.71 L83.92 569.9 L84 568 L84.3 522.2 L84.7 568 L84.78 569.91 L85.01 571.72 L85.39 573.35 L85.89 574.71 L86.48 575.73 L87.15 576.36 L87.85 576.58 L88.55 576.36 L89.22 575.73 L89.81 574.71 L90.31 573.35 L90.69 571.72 L90.92 569.91 L91 568 L91.3 522.9 L91.7 568 L91.78 569.91 L92.02 571.73 L92.41 573.36 L92.92 574.72 L93.54 575.75 L94.23 576.38 L94.95 576.6 L95.67 576.38 L96.36 575.75 L96.98 574.72 L97.49 573.36 L97.88 571.73 L98.12 569.91 L98.2 568 L98.5 524.3 L98.9 568 L98.98 569.92 L99.23 571.74 L99.63 573.37 L100.16 574.74 L100.8 575.77 L101.5 576.4 L102.25 576.62 L103 576.4 L103.7 575.77 L104.34 574.74 L104.87 573.37 L105.27 571.74 L105.52 569.92 L105.6 568 L105.9 525.7 L106.3 568 L106.39 569.92 L106.65 571.75 L107.06 573.39 L107.62 574.76 L108.28 575.78 L109.02 576.42 L109.8 576.64 L110.58 576.42 L111.32 575.78 L111.98 574.76 L112.54 573.39 L112.95 571.75 L113.21 569.92 L113.3 568 L113.6 526 L114 568 L114.1 569.93 L114.38 571.76 L114.84 573.4 L115.45 574.77 L116.18 575.8 L116.99 576.44 L117.85 576.66 L118.71 576.44 L119.52 575.8 L120.25 574.77 L120.86 573.4 L121.32 571.76 L121.6 569.93 L121.7 568 L122 526 L122.4 568 L122.52 569.93 L122.88 571.77 L123.45 573.41 L124.21 574.79 L125.12 575.82 L126.13 576.46 L127.2 576.68 L128.27 576.46 L129.28 575.82 L130.19 574.79 L130.95 573.41 L131.52 571.77 L131.88 569.93 L132 568 L132.3 526 L132.7 568 L132.8 569.94 L133.11 571.77 L133.61 573.42 L134.26 574.8 L135.05 575.84 L135.93 576.48 L136.85 576.7 L137.77 576.48 L138.65 575.84 L139.44 574.8 L140.09 573.42 L140.59 571.77 L140.9 569.94 L141 568 L141.3 526.9 L141.7 568 L141.81 569.94 L142.13 571.78 L142.65 573.44 L143.34 574.82 L144.16 575.86 L145.08 576.5 L146.05 576.72 L147.02 576.5 L147.94 575.86 L148.76 574.82 L149.45 573.44 L149.97 571.78 L150.29 569.94 L150.4 568 L150.7 526.9 L151.1 568 L151.21 569.94 L151.52 571.79 L152.03 573.45 L152.7 574.83 L153.51 575.87 L154.4 576.52 L155.35 576.74 L156.3 576.52 L157.19 575.87 L158 574.83 L158.67 573.45 L159.18 571.79 L159.49 569.94 L159.6 568 L159.9 527.5 L160.3 568 L160.43 569.95 L160.82 571.8 L161.46 573.46 L162.3 574.85 L163.3 575.89 L164.42 576.54 L165.6 576.76 L166.78 576.54 L167.9 575.89 L168.9 574.85 L169.74 573.46 L170.38 571.8 L170.77 569.95 L170.9 568 L171.2 527 L171.6 568 L171.7 569.95 L172.01 571.81 L172.51 573.47 L173.16 574.86 L173.95 575.91 L174.83 576.56 L175.75 576.78 L176.67 576.56 L177.55 575.91 L178.34 574.86 L178.99 573.47 L179.49 571.81 L179.8 569.95 L179.9 568 L180.2 528.6 L180.6 568 L180.73 569.96 L181.11 571.82 L181.72 573.49 L182.54 574.88 L183.52 575.93 L184.6 576.58 L185.75 576.8 L186.9 576.58 L187.98 575.93 L188.96 574.88 L189.78 573.49 L190.39 571.82 L190.77 569.96 L190.9 568 L191.2 528 L191.6 568 L191.73 569.96 L192.1 571.83 L192.69 573.5 L193.48 574.9 L194.43 575.95 L195.49 576.6 L196.6 576.82 L197.71 576.6 L198.77 575.95 L199.72 574.9 L200.51 573.5 L201.1 571.83 L201.47 569.96 L201.6 568 L201.9 528 L202.3 568 L202.42 569.97 L202.79 571.84 L203.37 573.51 L204.14 574.91 L205.07 575.96 L206.11 576.62 L207.2 576.84 L208.29 576.62 L209.33 575.96 L210.26 574.91 L211.03 573.51 L211.61 571.84 L211.98 569.97 L212.1 568 L212.4 529.1 L212.8 568 L212.93 569.97 L213.31 571.84 L213.92 573.52 L214.74 574.93 L215.72 575.98 L216.8 576.64 L217.95 576.86 L219.1 576.64 L220.18 575.98 L221.16 574.93 L221.98 573.52 L222.59 571.84 L222.97 569.97 L223.1 568 L223.4 528.6 L223.8 568 L223.93 569.98 L224.32 571.85 L224.96 573.54 L225.8 574.94 L226.8 576 L227.92 576.66 L229.1 576.88 L230.28 576.66 L231.4 576 L232.4 574.94 L233.24 573.54 L233.88 571.85 L234.27 569.98 L234.4 568 L234.7 529.1 L235.1 568 L235.23 569.98 L235.61 571.86 L236.22 573.55 L237.04 574.96 L238.02 576.02 L239.1 576.68 L240.25 576.9 L241.4 576.68 L242.48 576.02 L243.46 574.96 L244.28 573.55 L244.89 571.86 L245.27 569.98 L245.4 568 L245.7 529.1 L246.1 568 L246.25 569.98 L246.67 571.87 L247.37 573.56 L248.28 574.97 L249.38 576.04 L250.61 576.7 L251.9 576.92 L253.19 576.7 L254.42 576.04 L255.52 574.97 L256.43 573.56 L257.13 571.87 L257.55 569.98 L257.7 568 L258 529.7 L258.4 568 L258.55 569.99 L258.98 571.88 L259.68 573.57 L260.6 574.99 L261.71 576.05 L262.95 576.72 L264.25 576.94 L265.55 576.72 L266.79 576.05 L267.9 574.99 L268.82 573.57 L269.52 571.88 L269.95 569.99 L270.1 568 L270.4 528.6 L270.8 568 L271.5 568 L272.6 570.7 L274.8 575 L277 586 L279 589.8 L281.4 591.3 L290.1 591.4 L296.3 590.6" fill="none" stroke="#111" stroke-width="1.0" stroke-linejoin="round" stroke-linecap="butt" />
<text x="44.2" y="645.1" font-size="10.3" text-anchor="start" fill="#231f20" font-weight="normal" stroke="#231f20" stroke-width="0.05" >I<tspan font-size="6.3" dy="2.8">inj.</tspan><tspan dy="-2.8"> = 550 pA (cont.)</tspan></text>
<rect x="43.8" y="650.4" width="231" height="3.5" fill="#000" />
<rect x="64.2" y="656.2" width="20.7" height="3.5" fill="#f6a3a5" />
<rect x="115.4" y="656.2" width="20.7" height="3.5" fill="#f6a3a5" />
<rect x="166.7" y="656.2" width="20.4" height="3.5" fill="#f6a3a5" />
<rect x="217.8" y="656.2" width="20.4" height="3.5" fill="#f6a3a5" />
<text x="275.3" y="631.3" font-size="10.3" text-anchor="end" fill="#f7a3a6" font-weight="normal" stroke="#f7a3a6" stroke-width="0.05" >0.3 mW µm-2, 2 Hz</text>
<text x="275.3" y="643.6" font-size="10.3" text-anchor="end" fill="#f7a3a6" font-weight="normal" stroke="#f7a3a6" stroke-width="0.05" >920 nm, 200 ms stim.</text>
<path d="M22.2 735.6 L43.9 735.6 L44.7 731.1 L45.2 726 L45.2 725.5 L45.5 658 L45.9 713 L45.93 714.89 L46 716.69 L46.12 718.3 L46.28 719.65 L46.47 720.66 L46.68 721.29 L46.9 721.5 L47.12 721.29 L47.33 720.66 L47.52 719.65 L47.68 718.3 L47.8 716.69 L47.87 714.89 L47.9 713 L48.2 661.6 L48.6 713 L48.63 714.82 L48.7 716.56 L48.83 718.11 L49 719.41 L49.19 720.39 L49.42 720.99 L49.65 721.2 L49.88 720.99 L50.11 720.39 L50.3 719.41 L50.47 718.11 L50.6 716.56 L50.67 714.82 L50.7 713 L51 664.1 L51.4 713 L51.43 714.76 L51.53 716.43 L51.68 717.93 L51.89 719.18 L52.14 720.12 L52.41 720.7 L52.7 720.9 L52.99 720.7 L53.26 720.12 L53.51 719.18 L53.72 717.93 L53.87 716.43 L53.97 714.76 L54 713 L54.3 665.3 L54.7 713 L54.74 714.69 L54.85 716.3 L55.03 717.74 L55.26 718.94 L55.55 719.85 L55.87 720.41 L56.2 720.6 L56.53 720.41 L56.85 719.85 L57.14 718.94 L57.37 717.74 L57.55 716.3 L57.66 714.69 L57.7 713 L58 666.4 L58.4 713 L58.46 714.62 L58.62 716.17 L58.89 717.55 L59.25 718.71 L59.67 719.58 L60.15 720.12 L60.65 720.3 L61.15 720.12 L61.63 719.58 L62.05 718.71 L62.41 717.55 L62.68 716.17 L62.84 714.62 L62.9 713 L63.2 666.1 L63.6 713 L64.2 719 L65.6 730.3 L66.4 736.2 L68 738.4 L72.8 738 L84.1 736.2 L85.7 733.5 L88.1 727.1 L88.9 723.9 L88.9 723.9 L89.2 662 L89.6 713 L89.63 714.89 L89.72 716.69 L89.87 718.3 L90.07 719.65 L90.31 720.66 L90.57 721.29 L90.85 721.5 L91.13 721.29 L91.39 720.66 L91.63 719.65 L91.83 718.3 L91.98 716.69 L92.07 714.89 L92.1 713 L92.4 666.9 L92.8 713 L92.83 714.82 L92.91 716.56 L93.04 718.11 L93.21 719.41 L93.42 720.39 L93.66 720.99 L93.9 721.2 L94.14 720.99 L94.38 720.39 L94.59 719.41 L94.76 718.11 L94.89 716.56 L94.97 714.82 L95 713 L95.3 672.2 L95.7 713 L95.76 714.76 L95.92 716.43 L96.18 717.93 L96.53 719.18 L96.95 720.12 L97.41 720.7 L97.9 720.9 L98.39 720.7 L98.85 720.12 L99.27 719.18 L99.62 717.93 L99.88 716.43 L100.04 714.76 L100.1 713 L100.4 670.9 L100.8 713 L100.87 714.69 L101.07 716.3 L101.39 717.74 L101.82 718.94 L102.33 719.85 L102.9 720.41 L103.5 720.6 L104.1 720.41 L104.67 719.85 L105.18 718.94 L105.61 717.74 L105.93 716.3 L106.13 714.69 L106.2 713 L106.5 670.9 L106.9 713 L106.98 714.62 L107.21 716.17 L107.58 717.55 L108.07 718.71 L108.65 719.58 L109.31 720.12 L110 720.3 L110.69 720.12 L111.35 719.58 L111.93 718.71 L112.42 717.55 L112.79 716.17 L113.02 714.62 L113.1 713 L113.4 670.1 L113.8 713 L114.4 719 L116 731.5 L117.3 735.5 L118.8 737.3 L124.6 736.6 L136 735 L137.7 731 L139.6 723.5 L140.1 723 L140.4 664.6 L140.8 713 L140.83 714.89 L140.92 716.69 L141.07 718.3 L141.27 719.65 L141.51 720.66 L141.77 721.29 L142.05 721.5 L142.33 721.29 L142.59 720.66 L142.83 719.65 L143.03 718.3 L143.18 716.69 L143.27 714.89 L143.3 713 L143.6 671.2 L144 713 L144.05 714.82 L144.2 716.56 L144.45 718.11 L144.77 719.41 L145.16 720.39 L145.59 720.99 L146.05 721.2 L146.51 720.99 L146.94 720.39 L147.33 719.41 L147.65 718.11 L147.9 716.56 L148.05 714.82 L148.1 713 L148.4 673.8 L148.8 713 L148.86 714.76 L149.03 716.43 L149.31 717.93 L149.68 719.18 L150.13 720.12 L150.63 720.7 L151.15 720.9 L151.67 720.7 L152.17 720.12 L152.62 719.18 L152.99 717.93 L153.27 716.43 L153.44 714.76 L153.5 713 L153.8 675.1 L154.2 713 L154.3 714.69 L154.6 716.3 L155.08 717.74 L155.72 718.94 L156.49 719.85 L157.35 720.41 L158.25 720.6 L159.15 720.41 L160.01 719.85 L160.78 718.94 L161.42 717.74 L161.9 716.3 L162.2 714.69 L162.3 713 L162.6 671.9 L163 713 L163.8 718.6 L166.2 721.5 L167.7 728.8 L169.1 735.2 L171.3 736.9 L186.6 734.7 L189.6 728.8 L191.2 722 L191.2 721.5 L191.5 665.8 L191.9 713 L191.94 714.89 L192.06 716.69 L192.25 718.3 L192.5 719.65 L192.81 720.66 L193.14 721.29 L193.5 721.5 L193.86 721.29 L194.19 720.66 L194.5 719.65 L194.75 718.3 L194.94 716.69 L195.06 714.89 L195.1 713 L195.4 672.2 L195.8 713 L195.87 714.82 L196.06 716.56 L196.37 718.11 L196.78 719.41 L197.27 720.39 L197.82 720.99 L198.4 721.2 L198.98 720.99 L199.53 720.39 L200.02 719.41 L200.43 718.11 L200.74 716.56 L200.93 714.82 L201 713 L201.3 675 L201.7 713 L201.79 714.76 L202.07 716.43 L202.52 717.93 L203.11 719.18 L203.82 720.12 L204.62 720.7 L205.45 720.9 L206.28 720.7 L207.08 720.12 L207.79 719.18 L208.38 717.93 L208.83 716.43 L209.11 714.76 L209.2 713 L209.5 672.8 L209.9 713 L210 714.69 L210.28 716.3 L210.73 717.74 L211.33 718.94 L212.05 719.85 L212.85 720.41 L213.7 720.6 L214.55 720.41 L215.35 719.85 L216.07 718.94 L216.67 717.74 L217.12 716.3 L217.4 714.69 L217.5 713 L217.8 675.9 L218.2 713 L218.9 718.6 L220.3 722 L221.8 729 L223.2 735 L225.4 736.6 L237.8 734.8 L240.5 729 L242 722.5 L242 722 L242.3 667.3 L242.7 713 L242.74 714.89 L242.86 716.69 L243.06 718.3 L243.32 719.65 L243.63 720.66 L243.98 721.29 L244.35 721.5 L244.72 721.29 L245.07 720.66 L245.38 719.65 L245.64 718.3 L245.84 716.69 L245.96 714.89 L246 713 L246.3 674.3 L246.7 713 L246.77 714.82 L246.99 716.56 L247.33 718.11 L247.79 719.41 L248.34 720.39 L248.95 720.99 L249.6 721.2 L250.25 720.99 L250.86 720.39 L251.41 719.41 L251.87 718.11 L252.21 716.56 L252.43 714.82 L252.5 713 L252.8 675.9 L253.2 713 L253.3 714.76 L253.6 716.43 L254.07 717.93 L254.71 719.18 L255.46 720.12 L256.31 720.7 L257.2 720.9 L258.09 720.7 L258.94 720.12 L259.69 719.18 L260.33 717.93 L260.8 716.43 L261.1 714.76 L261.2 713 L261.5 673.6 L261.9 713 L262.01 714.69 L262.35 716.3 L262.89 717.74 L263.61 718.94 L264.48 719.85 L265.44 720.41 L266.45 720.6 L267.46 720.41 L268.42 719.85 L269.29 718.94 L270.01 717.74 L270.55 716.3 L270.89 714.69 L271 713 L271.3 673.1 L271.7 713 L272.5 719 L274 725 L276.5 732 L280 735.5 L288 735.6 L296 735.1" fill="none" stroke="#111" stroke-width="1.0" stroke-linejoin="round" stroke-linecap="butt" />
<path d="M16.6 730.3 L16.6 744.2 L27 744.2" fill="none" stroke="#000" stroke-width="1.3" stroke-linejoin="round" stroke-linecap="butt" />
<text x="13.2" y="729.2" font-size="10.3" text-anchor="middle" fill="#231f20" font-weight="normal" stroke="#231f20" stroke-width="0.05" transform="rotate(-90 13.2 729.2)">20 mV</text>
<text x="31.5" y="755.8" font-size="10.3" text-anchor="middle" fill="#231f20" font-weight="normal" stroke="#231f20" stroke-width="0.05" >100 ms</text>
<text x="341.9" y="497.6" font-size="24" text-anchor="start" fill="#111" font-weight="bold" >g</text>
<rect x="360.2" y="523.4" width="4.6" height="3.1" fill="#d9575d" />
<rect x="360.2" y="659.9" width="4.6" height="3.1" fill="#d9575d" />
<rect x="387" y="523.4" width="4.6" height="3.1" fill="#d9575d" />
<rect x="387" y="659.9" width="4.6" height="3.1" fill="#d9575d" />
<rect x="413.6" y="523.4" width="4.6" height="3.1" fill="#d9575d" />
<rect x="413.6" y="659.9" width="4.6" height="3.1" fill="#d9575d" />
<rect x="440.4" y="523.4" width="4.6" height="3.1" fill="#d9575d" />
<rect x="440.4" y="659.9" width="4.6" height="3.1" fill="#d9575d" />
<rect x="467.2" y="523.4" width="4.6" height="3.1" fill="#d9575d" />
<rect x="467.2" y="659.9" width="4.6" height="3.1" fill="#d9575d" />
<rect x="494" y="523.4" width="4.6" height="3.1" fill="#d9575d" />
<rect x="494" y="659.9" width="4.6" height="3.1" fill="#d9575d" />
<rect x="520.7" y="523.4" width="4.6" height="3.1" fill="#d9575d" />
<rect x="520.7" y="659.9" width="4.6" height="3.1" fill="#d9575d" />
<rect x="547.3" y="523.4" width="4.6" height="3.1" fill="#d9575d" />
<rect x="547.3" y="659.9" width="4.6" height="3.1" fill="#d9575d" />
<rect x="574.1" y="523.4" width="4.6" height="3.1" fill="#d9575d" />
<rect x="574.1" y="659.9" width="4.6" height="3.1" fill="#d9575d" />
<rect x="601" y="523.4" width="4.6" height="3.1" fill="#d9575d" />
<rect x="601" y="659.9" width="4.6" height="3.1" fill="#d9575d" />
<rect x="627.5" y="523.4" width="4.6" height="3.1" fill="#d9575d" />
<rect x="627.5" y="659.9" width="4.6" height="3.1" fill="#d9575d" />
<path d="M345.4 602 L360.3 601.8 L362 598.8 L364.5 594.2 L365.7 592.6 L365.8 592.4 L366 531.6 L366.4 592.6 L368.5 593.3 L372 594.4 L378 596 L386.3 598.2 L387.3 598.5 L389.3 595.4 L391 592.6 L391.6 592 L391.8 532.5 L392.2 592.6 L394.3 593.3 L397.8 594.4 L403.8 596 L412.9 598.2 L413.9 598.5 L415.9 595.4 L417.6 592.6 L418.2 592 L418.4 533.3 L418.8 592.6 L420.9 593.3 L424.4 594.4 L430.4 596 L439.9 598.2 L440.9 598.5 L442.9 595.4 L444.6 592.6 L445.2 592 L445.4 534 L445.8 592.6 L447.9 593.3 L451.4 594.4 L457.4 596 L467.2 598.2 L468.2 598.5 L470.2 595.4 L471.9 592.6 L472.5 592 L472.7 534 L473.1 592.6 L475.2 593.3 L478.7 594.4 L484.7 596 L493.9 598.2 L494.9 598.5 L496.9 595.4 L498.6 592.6 L499.2 592 L499.4 534 L499.8 592.6 L501.9 593.3 L505.4 594.4 L511.4 596 L520.9 598.2 L521.9 598.5 L523.9 595.4 L525.6 592.6 L526.2 592 L526.4 534.3 L526.8 592.6 L528.9 593.3 L532.4 594.4 L538.4 596 L548.3 598.2 L549.3 598.5 L551.3 595.4 L553 592.6 L553.6 592 L553.8 534.8 L554.2 592.6 L556.3 593.3 L559.8 594.4 L565.8 596 L575 598.2 L576 598.5 L578 595.4 L579.7 592.6 L580.3 592 L580.5 535 L580.9 592.6 L583 593.3 L586.5 594.4 L592.5 596 L602.9 598.2 L603.9 598.5 L605.9 595.4 L607.6 592.6 L608.2 592 L608.4 535.2 L608.8 592.6 L610.9 593.3 L614.4 594.4 L620.4 596 L632 598.2 L633 598.5 L635 595.4 L636.7 592.6 L637.3 592 L637.5 534.9 L637.9 592.6 L640 591 L645 593.3 L652 596.2 L660 598.6 L667 599.9 L673.6 600.4" fill="none" stroke="#111" stroke-width="1.1" stroke-linejoin="round" stroke-linecap="butt" />
<path d="M347.6 734 L360.7 733.6 L362.5 731 L364.8 726.5 L365.8 724.5 L365.8 724.2 L366 664.4 L366.4 724.6 L368.5 725.3 L372 726.3 L378 727.7 L386 729.5 L387 729.8 L389 727 L390.7 724.3 L391.3 723.8 L391.5 665.2 L391.9 724.6 L394 725.3 L397.5 726.3 L403.5 727.7 L413 729.5 L414 729.8 L416 727 L417.7 724.3 L418.3 723.8 L418.5 665.7 L418.9 724.6 L421 725.3 L424.5 726.3 L430.5 727.7 L439.8 729.5 L440.8 729.8 L442.8 727 L444.5 724.3 L445.1 723.8 L445.3 666.2 L445.7 724.6 L448 725.2 L452 725.6 L458 725.3 L464 727.8 L467.1 730.3 L469 729.2 L471 727.6 L472.6 727.3 L476 728.5 L482 730.6 L488 733 L493.4 735.2 L496 733.8 L498 730.5 L499.5 729.3 L502 729.6 L508 731 L514 732.6 L520.4 734.1 L522.5 731.5 L524.5 727.5 L526.4 725.7 L530 725.1 L533.9 725.1 L540 726.5 L547.3 728.7 L549.5 726.5 L551.5 723.5 L552.2 723 L552.4 666.4 L552.8 722 L554.9 722.8 L558.4 724.3 L564.4 726.3 L574.2 728.6 L575.2 729 L577.2 726.2 L578.9 723.3 L579.5 722.6 L579.7 667.3 L580.1 722 L582.2 722.8 L585.7 724.3 L591.7 726.3 L601.1 728.6 L602.1 729 L604.1 726.2 L605.8 723.3 L606.4 722.6 L606.6 667.3 L607 722 L609.1 722.8 L612.6 724.3 L618.6 726.3 L629.2 728.6 L630.2 729 L632.2 726.2 L633.9 723.3 L634.5 722.6 L634.7 667.9 L635.1 722 L637 722.6 L642 724.7 L648 726.8 L656 729 L664 730.6 L673.1 731.7" fill="none" stroke="#111" stroke-width="1.1" stroke-linejoin="round" stroke-linecap="butt" />
<rect x="466.6" y="653.9" width="53.2" height="2.7" fill="#f6a3a5" />
<text x="563.4" y="618.9" font-size="10.3" text-anchor="end" fill="#c7363d" font-weight="normal" stroke="#c7363d" stroke-width="0.05" >0.3 mW µm<tspan font-size="5.5" dy="-4">-2</tspan><tspan dy="4">, 10 Hz</tspan></text>
<text x="563.4" y="631.2" font-size="10.3" text-anchor="end" fill="#c7363d" font-weight="normal" stroke="#c7363d" stroke-width="0.05" >1100 nm, 15 ms stimulation</text>
<text x="673.8" y="618.9" font-size="10.3" text-anchor="end" fill="#f7b3b5" font-weight="normal" stroke="#f7b3b5" stroke-width="0.05" >0.3 mW µm<tspan font-size="5.5" dy="-4">-2</tspan></text>
<text x="673.8" y="631.2" font-size="10.3" text-anchor="end" fill="#f7b3b5" font-weight="normal" stroke="#f7b3b5" stroke-width="0.05" >920 nm, 200 ms stim.</text>
<path d="M341.5 726.1 L341.5 740.2 L369.9 740.2" fill="none" stroke="#000" stroke-width="1.3" stroke-linejoin="round" stroke-linecap="butt" />
<text x="337.2" y="727.5" font-size="10.3" text-anchor="middle" fill="#231f20" font-weight="normal" stroke="#231f20" stroke-width="0.05" transform="rotate(-90 337.2 727.5)">20 mV</text>
<text x="357.2" y="751.7" font-size="10.3" text-anchor="middle" fill="#231f20" font-weight="normal" stroke="#231f20" stroke-width="0.05" >100 ms</text>
</svg></body></html>
